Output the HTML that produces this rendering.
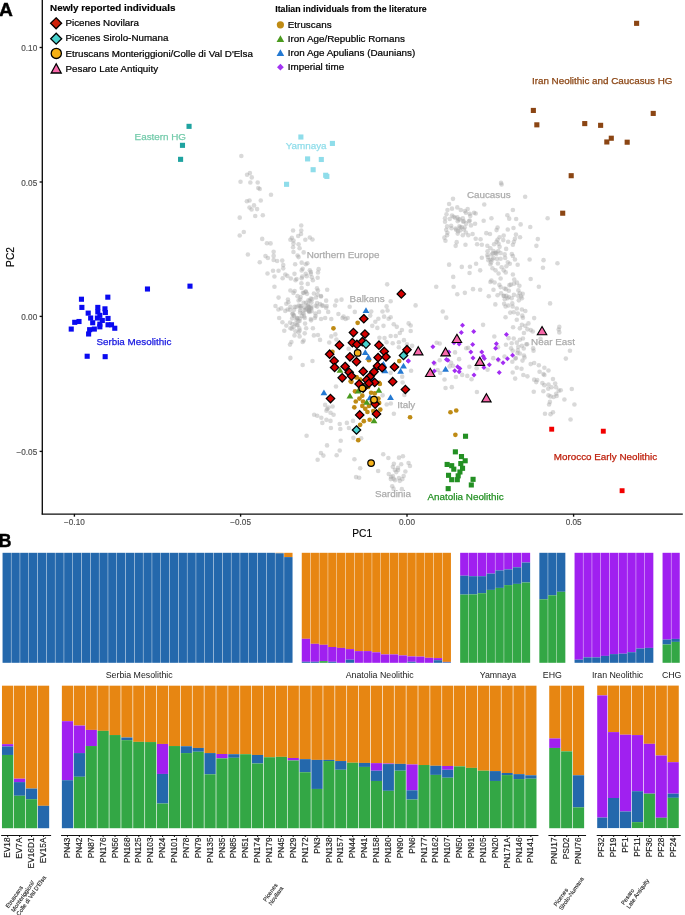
<!DOCTYPE html>
<html lang="en"><head><meta charset="utf-8"><title>Figure</title>
<style>html,body{margin:0;padding:0;background:#fff}svg{display:block}</style></head>
<body>
<svg width="685" height="915" viewBox="0 0 685 915" font-family='"Liberation Sans", Arial, Helvetica, sans-serif'>
<rect width="685" height="915" fill="#fff"/>
<g fill="#a0a0a0" fill-opacity="0.40">
<circle cx="241.35" cy="155.94" r="2.3"/>
<circle cx="247.07" cy="174.74" r="2.3"/>
<circle cx="249.93" cy="173.11" r="2.3"/>
<circle cx="251.77" cy="177.4" r="2.3"/>
<circle cx="240.53" cy="181.69" r="2.3"/>
<circle cx="250.34" cy="182.51" r="2.3"/>
<circle cx="257.7" cy="182.51" r="2.3"/>
<circle cx="258.31" cy="188.03" r="2.3"/>
<circle cx="259.74" cy="189.05" r="2.3"/>
<circle cx="270.99" cy="194.77" r="2.3"/>
<circle cx="246.87" cy="201.31" r="2.3"/>
<circle cx="249.53" cy="200.5" r="2.3"/>
<circle cx="260.77" cy="200.5" r="2.3"/>
<circle cx="254.02" cy="205.4" r="2.3"/>
<circle cx="249.53" cy="207.45" r="2.3"/>
<circle cx="251.57" cy="209.49" r="2.3"/>
<circle cx="257.09" cy="209.08" r="2.3"/>
<circle cx="239.72" cy="217.66" r="2.3"/>
<circle cx="255.25" cy="216.03" r="2.3"/>
<circle cx="262.81" cy="215.21" r="2.3"/>
<circle cx="243.8" cy="231.97" r="2.3"/>
<circle cx="239.72" cy="235.45" r="2.3"/>
<circle cx="262.2" cy="238.92" r="2.3"/>
<circle cx="266.9" cy="243.21" r="2.3"/>
<circle cx="270.58" cy="243.42" r="2.3"/>
<circle cx="247.89" cy="254.45" r="2.3"/>
<circle cx="273.64" cy="251.8" r="2.3"/>
<circle cx="265.47" cy="256.09" r="2.3"/>
<circle cx="267.92" cy="257.93" r="2.3"/>
<circle cx="273.64" cy="255.88" r="2.3"/>
<circle cx="273.64" cy="259.97" r="2.3"/>
<circle cx="259.74" cy="262.22" r="2.3"/>
<circle cx="277.12" cy="260.99" r="2.3"/>
<circle cx="282.23" cy="260.58" r="2.3"/>
<circle cx="283.25" cy="265.08" r="2.3"/>
<circle cx="283.25" cy="268.35" r="2.3"/>
<circle cx="273.03" cy="270.8" r="2.3"/>
<circle cx="278.55" cy="270.8" r="2.3"/>
<circle cx="267.51" cy="273.46" r="2.3"/>
<circle cx="274.46" cy="276.53" r="2.3"/>
<circle cx="285.29" cy="274.48" r="2.3"/>
<circle cx="287.34" cy="275.91" r="2.3"/>
<circle cx="290.81" cy="278.57" r="2.3"/>
<circle cx="294.49" cy="273.87" r="2.3"/>
<circle cx="301.23" cy="225.43" r="2.3"/>
<circle cx="293.06" cy="230.54" r="2.3"/>
<circle cx="301.23" cy="230.54" r="2.3"/>
<circle cx="301.03" cy="234.01" r="2.3"/>
<circle cx="298.17" cy="236.06" r="2.3"/>
<circle cx="291.83" cy="237.69" r="2.3"/>
<circle cx="290.4" cy="239.74" r="2.3"/>
<circle cx="293.47" cy="240.55" r="2.3"/>
<circle cx="305.32" cy="239.74" r="2.3"/>
<circle cx="309.82" cy="237.49" r="2.3"/>
<circle cx="312.47" cy="239.53" r="2.3"/>
<circle cx="293.47" cy="243.62" r="2.3"/>
<circle cx="298.58" cy="244.23" r="2.3"/>
<circle cx="293.06" cy="247.3" r="2.3"/>
<circle cx="299.6" cy="248.32" r="2.3"/>
<circle cx="293.47" cy="252" r="2.3"/>
<circle cx="297.55" cy="255.47" r="2.3"/>
<circle cx="298.58" cy="257.11" r="2.3"/>
<circle cx="303.69" cy="252.41" r="2.3"/>
<circle cx="301.64" cy="262.63" r="2.3"/>
<circle cx="305.73" cy="264.26" r="2.3"/>
<circle cx="307.36" cy="263.24" r="2.3"/>
<circle cx="302.66" cy="268.76" r="2.3"/>
<circle cx="301.64" cy="270.39" r="2.3"/>
<circle cx="309.82" cy="270.19" r="2.3"/>
<circle cx="318.61" cy="269.17" r="2.3"/>
<circle cx="317.99" cy="272.44" r="2.3"/>
<circle cx="310.84" cy="273.87" r="2.3"/>
<circle cx="305.73" cy="273.87" r="2.3"/>
<circle cx="302.26" cy="276.53" r="2.3"/>
<circle cx="311.86" cy="277.34" r="2.3"/>
<circle cx="296.53" cy="278.98" r="2.3"/>
<circle cx="282.64" cy="278.18" r="2.3"/>
<circle cx="295.51" cy="280.22" r="2.3"/>
<circle cx="301.64" cy="278.18" r="2.3"/>
<circle cx="306.75" cy="276.13" r="2.3"/>
<circle cx="310.84" cy="272.04" r="2.3"/>
<circle cx="312.88" cy="280.22" r="2.3"/>
<circle cx="307.77" cy="283.9" r="2.3"/>
<circle cx="301.64" cy="287.99" r="2.3"/>
<circle cx="274.46" cy="286.76" r="2.3"/>
<circle cx="290.4" cy="290.44" r="2.3"/>
<circle cx="293.47" cy="292.89" r="2.3"/>
<circle cx="297.55" cy="296.16" r="2.3"/>
<circle cx="278.55" cy="297.59" r="2.3"/>
<circle cx="288.36" cy="302.29" r="2.3"/>
<circle cx="286.31" cy="303.72" r="2.3"/>
<circle cx="290.4" cy="306.79" r="2.3"/>
<circle cx="275.48" cy="305.97" r="2.3"/>
<circle cx="281.2" cy="308.42" r="2.3"/>
<circle cx="285.29" cy="310.88" r="2.3"/>
<circle cx="289.99" cy="309.85" r="2.3"/>
<circle cx="279.16" cy="318.03" r="2.3"/>
<circle cx="292.45" cy="313.94" r="2.3"/>
<circle cx="296.53" cy="306.79" r="2.3"/>
<circle cx="300.62" cy="307.81" r="2.3"/>
<circle cx="303.69" cy="302.7" r="2.3"/>
<circle cx="307.77" cy="305.77" r="2.3"/>
<circle cx="310.84" cy="298.61" r="2.3"/>
<circle cx="313.91" cy="293.5" r="2.3"/>
<circle cx="316.97" cy="288.39" r="2.3"/>
<circle cx="317.99" cy="290.44" r="2.3"/>
<circle cx="321.06" cy="296.57" r="2.3"/>
<circle cx="327.19" cy="289.82" r="2.3"/>
<circle cx="305.73" cy="309.85" r="2.3"/>
<circle cx="308.8" cy="310.88" r="2.3"/>
<circle cx="302.66" cy="312.92" r="2.3"/>
<circle cx="301.64" cy="315.99" r="2.3"/>
<circle cx="304.71" cy="318.03" r="2.3"/>
<circle cx="299.6" cy="321.09" r="2.3"/>
<circle cx="295.51" cy="323.55" r="2.3"/>
<circle cx="297.55" cy="325.18" r="2.3"/>
<circle cx="292.45" cy="324.16" r="2.3"/>
<circle cx="286.31" cy="325.59" r="2.3"/>
<circle cx="284.27" cy="330.7" r="2.3"/>
<circle cx="290.4" cy="328.25" r="2.3"/>
<circle cx="295.51" cy="331.31" r="2.3"/>
<circle cx="298.58" cy="332.34" r="2.3"/>
<circle cx="294.49" cy="335.4" r="2.3"/>
<circle cx="299.6" cy="336.42" r="2.3"/>
<circle cx="304.71" cy="333.36" r="2.3"/>
<circle cx="303.69" cy="340.51" r="2.3"/>
<circle cx="302.66" cy="341.94" r="2.3"/>
<circle cx="291.42" cy="341.94" r="2.3"/>
<circle cx="289.99" cy="344.6" r="2.3"/>
<circle cx="312.88" cy="328.25" r="2.3"/>
<circle cx="310.84" cy="319.05" r="2.3"/>
<circle cx="314.93" cy="318.03" r="2.3"/>
<circle cx="319.01" cy="311.9" r="2.3"/>
<circle cx="323.1" cy="305.77" r="2.3"/>
<circle cx="326.17" cy="307.81" r="2.3"/>
<circle cx="328.21" cy="311.9" r="2.3"/>
<circle cx="321.06" cy="319.05" r="2.3"/>
<circle cx="325.15" cy="318.03" r="2.3"/>
<circle cx="331.28" cy="319.05" r="2.3"/>
<circle cx="336.39" cy="300.66" r="2.3"/>
<circle cx="341.5" cy="299.64" r="2.3"/>
<circle cx="326.17" cy="300.66" r="2.3"/>
<circle cx="338.43" cy="313.94" r="2.3"/>
<circle cx="342.52" cy="318.03" r="2.3"/>
<circle cx="345.58" cy="319.05" r="2.3"/>
<circle cx="343.54" cy="316.6" r="2.3"/>
<circle cx="347.63" cy="318.03" r="2.3"/>
<circle cx="349.67" cy="306.79" r="2.3"/>
<circle cx="354.78" cy="311.9" r="2.3"/>
<circle cx="313.91" cy="335.4" r="2.3"/>
<circle cx="317.99" cy="334.99" r="2.3"/>
<circle cx="320.04" cy="339.9" r="2.3"/>
<circle cx="329.23" cy="342.55" r="2.3"/>
<circle cx="331.28" cy="336.42" r="2.3"/>
<circle cx="335.36" cy="334.38" r="2.3"/>
<circle cx="336.39" cy="339.49" r="2.3"/>
<circle cx="290.4" cy="357.88" r="2.3"/>
<circle cx="312.47" cy="360.95" r="2.3"/>
<circle cx="302.66" cy="365.04" r="2.3"/>
<circle cx="335.98" cy="386.5" r="2.3"/>
<circle cx="348.65" cy="348.69" r="2.3"/>
<circle cx="325.15" cy="404.89" r="2.3"/>
<circle cx="327.19" cy="408.98" r="2.3"/>
<circle cx="328.47" cy="407.59" r="2.3"/>
<circle cx="332.55" cy="406.57" r="2.3"/>
<circle cx="326.42" cy="410.66" r="2.3"/>
<circle cx="330.51" cy="412.7" r="2.3"/>
<circle cx="333.58" cy="414.74" r="2.3"/>
<circle cx="314.16" cy="414.74" r="2.3"/>
<circle cx="317.23" cy="415.77" r="2.3"/>
<circle cx="321.31" cy="417.81" r="2.3"/>
<circle cx="326.42" cy="419.85" r="2.3"/>
<circle cx="330.51" cy="420.88" r="2.3"/>
<circle cx="322.34" cy="422.92" r="2.3"/>
<circle cx="339.71" cy="423.94" r="2.3"/>
<circle cx="346.86" cy="422.92" r="2.3"/>
<circle cx="352.99" cy="420.88" r="2.3"/>
<circle cx="330.92" cy="428.03" r="2.3"/>
<circle cx="340.32" cy="429.05" r="2.3"/>
<circle cx="348.91" cy="428.03" r="2.3"/>
<circle cx="306.6" cy="435.8" r="2.3"/>
<circle cx="340.73" cy="440.7" r="2.3"/>
<circle cx="353.4" cy="437.84" r="2.3"/>
<circle cx="361.17" cy="438.25" r="2.3"/>
<circle cx="327.04" cy="445.4" r="2.3"/>
<circle cx="320.91" cy="452.96" r="2.3"/>
<circle cx="339.71" cy="450.51" r="2.3"/>
<circle cx="323.36" cy="455.62" r="2.3"/>
<circle cx="336.64" cy="455.21" r="2.3"/>
<circle cx="317.64" cy="459.71" r="2.3"/>
<circle cx="354.42" cy="459.3" r="2.3"/>
<circle cx="360.15" cy="468.29" r="2.3"/>
<circle cx="356.06" cy="477.08" r="2.3"/>
<circle cx="359.12" cy="477.69" r="2.3"/>
<circle cx="378.13" cy="470.95" r="2.3"/>
<circle cx="383.24" cy="454.19" r="2.3"/>
<circle cx="388.35" cy="458.07" r="2.3"/>
<circle cx="398.98" cy="457.66" r="2.3"/>
<circle cx="393.87" cy="463.8" r="2.3"/>
<circle cx="392.85" cy="466.86" r="2.3"/>
<circle cx="394.89" cy="469.93" r="2.3"/>
<circle cx="388.76" cy="474.01" r="2.3"/>
<circle cx="392.85" cy="476.06" r="2.3"/>
<circle cx="390.8" cy="479.12" r="2.3"/>
<circle cx="394.89" cy="480.15" r="2.3"/>
<circle cx="398.98" cy="478.1" r="2.3"/>
<circle cx="392.23" cy="486.28" r="2.3"/>
<circle cx="393.87" cy="413.72" r="2.3"/>
<circle cx="390.8" cy="403.5" r="2.3"/>
<circle cx="386.72" cy="404.53" r="2.3"/>
<circle cx="382.63" cy="395.33" r="2.3"/>
<circle cx="402.93" cy="456.31" r="2.3"/>
<circle cx="401.18" cy="464.2" r="2.3"/>
<circle cx="408.54" cy="462.97" r="2.3"/>
<circle cx="409.94" cy="465.95" r="2.3"/>
<circle cx="396.28" cy="472.08" r="2.3"/>
<circle cx="391.02" cy="476.99" r="2.3"/>
<circle cx="393.65" cy="478.74" r="2.3"/>
<circle cx="399.78" cy="480.84" r="2.3"/>
<circle cx="402.41" cy="479.09" r="2.3"/>
<circle cx="403.64" cy="475.93" r="2.3"/>
<circle cx="398.03" cy="467.7" r="2.3"/>
<circle cx="501.03" cy="182.89" r="2.3"/>
<circle cx="501.64" cy="184.53" r="2.3"/>
<circle cx="525.15" cy="196.79" r="2.3"/>
<circle cx="453" cy="198.83" r="2.3"/>
<circle cx="449.12" cy="203.94" r="2.3"/>
<circle cx="484.27" cy="204.55" r="2.3"/>
<circle cx="447.48" cy="210.07" r="2.3"/>
<circle cx="451.98" cy="208.64" r="2.3"/>
<circle cx="457.29" cy="207.42" r="2.3"/>
<circle cx="460.77" cy="210.07" r="2.3"/>
<circle cx="464.85" cy="211.09" r="2.3"/>
<circle cx="465.88" cy="212.73" r="2.3"/>
<circle cx="474.05" cy="212.73" r="2.3"/>
<circle cx="475.69" cy="213.55" r="2.3"/>
<circle cx="512.88" cy="210.07" r="2.3"/>
<circle cx="507.36" cy="215.18" r="2.3"/>
<circle cx="509.2" cy="218.66" r="2.3"/>
<circle cx="491.42" cy="218.25" r="2.3"/>
<circle cx="483.66" cy="220.7" r="2.3"/>
<circle cx="547.63" cy="218.25" r="2.3"/>
<circle cx="445.03" cy="218.25" r="2.3"/>
<circle cx="445.03" cy="221.72" r="2.3"/>
<circle cx="451.98" cy="215.59" r="2.3"/>
<circle cx="453.61" cy="216.82" r="2.3"/>
<circle cx="457.29" cy="217.23" r="2.3"/>
<circle cx="459.74" cy="219.27" r="2.3"/>
<circle cx="462.81" cy="218.25" r="2.3"/>
<circle cx="457.7" cy="221.31" r="2.3"/>
<circle cx="463.83" cy="221.31" r="2.3"/>
<circle cx="468.94" cy="221.31" r="2.3"/>
<circle cx="470.99" cy="225.4" r="2.3"/>
<circle cx="475.07" cy="223.77" r="2.3"/>
<circle cx="447.07" cy="226.42" r="2.3"/>
<circle cx="451.16" cy="225.81" r="2.3"/>
<circle cx="455.66" cy="228.47" r="2.3"/>
<circle cx="459.34" cy="226.42" r="2.3"/>
<circle cx="460.15" cy="230.51" r="2.3"/>
<circle cx="463.83" cy="229.49" r="2.3"/>
<circle cx="457.7" cy="233.58" r="2.3"/>
<circle cx="465.88" cy="232.55" r="2.3"/>
<circle cx="462.81" cy="235.21" r="2.3"/>
<circle cx="468.33" cy="235.21" r="2.3"/>
<circle cx="472.62" cy="233.99" r="2.3"/>
<circle cx="447.07" cy="235.21" r="2.3"/>
<circle cx="444.42" cy="237.66" r="2.3"/>
<circle cx="445.44" cy="240.73" r="2.3"/>
<circle cx="456.68" cy="242.16" r="2.3"/>
<circle cx="455.66" cy="245.84" r="2.3"/>
<circle cx="465.47" cy="244.82" r="2.3"/>
<circle cx="520.65" cy="224.38" r="2.3"/>
<circle cx="530.26" cy="227.04" r="2.3"/>
<circle cx="497.55" cy="227.45" r="2.3"/>
<circle cx="496.53" cy="230.1" r="2.3"/>
<circle cx="507.77" cy="229.49" r="2.3"/>
<circle cx="513.5" cy="228.06" r="2.3"/>
<circle cx="486.31" cy="233.17" r="2.3"/>
<circle cx="489.99" cy="233.99" r="2.3"/>
<circle cx="503.69" cy="235.62" r="2.3"/>
<circle cx="499.6" cy="237.26" r="2.3"/>
<circle cx="497.55" cy="239.71" r="2.3"/>
<circle cx="515.95" cy="234.6" r="2.3"/>
<circle cx="520.04" cy="237.26" r="2.3"/>
<circle cx="514.93" cy="238.69" r="2.3"/>
<circle cx="475.69" cy="238.69" r="2.3"/>
<circle cx="480.59" cy="239.3" r="2.3"/>
<circle cx="496.53" cy="241.75" r="2.3"/>
<circle cx="498.58" cy="243.8" r="2.3"/>
<circle cx="503.28" cy="240.12" r="2.3"/>
<circle cx="508.18" cy="241.75" r="2.3"/>
<circle cx="513.91" cy="241.75" r="2.3"/>
<circle cx="512.88" cy="244.82" r="2.3"/>
<circle cx="537.82" cy="239.09" r="2.3"/>
<circle cx="536.39" cy="245.84" r="2.3"/>
<circle cx="477.12" cy="244.2" r="2.3"/>
<circle cx="481.82" cy="244.82" r="2.3"/>
<circle cx="487.34" cy="245.84" r="2.3"/>
<circle cx="490.4" cy="248.29" r="2.3"/>
<circle cx="499.6" cy="246.86" r="2.3"/>
<circle cx="506.14" cy="248.91" r="2.3"/>
<circle cx="493.47" cy="250.95" r="2.3"/>
<circle cx="495.1" cy="252.99" r="2.3"/>
<circle cx="500.62" cy="252.99" r="2.3"/>
<circle cx="504.71" cy="254.42" r="2.3"/>
<circle cx="511.86" cy="254.01" r="2.3"/>
<circle cx="512.88" cy="256.06" r="2.3"/>
<circle cx="514.93" cy="259.53" r="2.3"/>
<circle cx="487.34" cy="255.04" r="2.3"/>
<circle cx="481.82" cy="257.69" r="2.3"/>
<circle cx="490.4" cy="259.74" r="2.3"/>
<circle cx="500.62" cy="258.72" r="2.3"/>
<circle cx="488.36" cy="260.15" r="2.3"/>
<circle cx="492.45" cy="259.53" r="2.3"/>
<circle cx="529.64" cy="259.53" r="2.3"/>
<circle cx="543.54" cy="260.15" r="2.3"/>
<circle cx="557.44" cy="263.21" r="2.3"/>
<circle cx="542.93" cy="267.71" r="2.3"/>
<circle cx="449.12" cy="264.64" r="2.3"/>
<circle cx="461.79" cy="266.89" r="2.3"/>
<circle cx="469.96" cy="266.69" r="2.3"/>
<circle cx="476.09" cy="263.82" r="2.3"/>
<circle cx="490.4" cy="264.23" r="2.3"/>
<circle cx="492.45" cy="268.32" r="2.3"/>
<circle cx="495.51" cy="270.36" r="2.3"/>
<circle cx="480.18" cy="270.36" r="2.3"/>
<circle cx="469.55" cy="273.02" r="2.3"/>
<circle cx="507.77" cy="262.19" r="2.3"/>
<circle cx="509.82" cy="263.82" r="2.3"/>
<circle cx="506.34" cy="266.28" r="2.3"/>
<circle cx="501.64" cy="267.3" r="2.3"/>
<circle cx="503.69" cy="270.36" r="2.3"/>
<circle cx="505.73" cy="272.41" r="2.3"/>
<circle cx="498.58" cy="273.43" r="2.3"/>
<circle cx="512.88" cy="274.45" r="2.3"/>
<circle cx="453.2" cy="276.91" r="2.3"/>
<circle cx="500.62" cy="278.54" r="2.3"/>
<circle cx="530.66" cy="278.95" r="2.3"/>
<circle cx="490.4" cy="282.01" r="2.3"/>
<circle cx="491.42" cy="280.58" r="2.3"/>
<circle cx="436.24" cy="286.72" r="2.3"/>
<circle cx="453.61" cy="286.72" r="2.3"/>
<circle cx="473.03" cy="289.17" r="2.3"/>
<circle cx="480.18" cy="289.78" r="2.3"/>
<circle cx="493.47" cy="289.78" r="2.3"/>
<circle cx="500.62" cy="287.12" r="2.3"/>
<circle cx="508.8" cy="290.8" r="2.3"/>
<circle cx="510.84" cy="284.67" r="2.3"/>
<circle cx="513.91" cy="283.65" r="2.3"/>
<circle cx="516.97" cy="282.63" r="2.3"/>
<circle cx="519.42" cy="285.69" r="2.3"/>
<circle cx="518.4" cy="290.39" r="2.3"/>
<circle cx="522.69" cy="293.87" r="2.3"/>
<circle cx="521.06" cy="296.53" r="2.3"/>
<circle cx="538.84" cy="286.72" r="2.3"/>
<circle cx="457.29" cy="294.28" r="2.3"/>
<circle cx="464.85" cy="292.85" r="2.3"/>
<circle cx="488.77" cy="296.32" r="2.3"/>
<circle cx="497.55" cy="295.3" r="2.3"/>
<circle cx="506.34" cy="295.91" r="2.3"/>
<circle cx="508.8" cy="296.93" r="2.3"/>
<circle cx="513.91" cy="294.89" r="2.3"/>
<circle cx="501.05" cy="293.18" r="2.3"/>
<circle cx="507.59" cy="298.28" r="2.3"/>
<circle cx="511.68" cy="298.28" r="2.3"/>
<circle cx="519.85" cy="293.18" r="2.3"/>
<circle cx="521.9" cy="298.28" r="2.3"/>
<circle cx="518.83" cy="300.33" r="2.3"/>
<circle cx="550.1" cy="303.39" r="2.3"/>
<circle cx="495.33" cy="304.42" r="2.3"/>
<circle cx="504.12" cy="303.8" r="2.3"/>
<circle cx="505.55" cy="306.46" r="2.3"/>
<circle cx="512.29" cy="303.39" r="2.3"/>
<circle cx="512.7" cy="306.46" r="2.3"/>
<circle cx="516.79" cy="308.5" r="2.3"/>
<circle cx="521.9" cy="309.53" r="2.3"/>
<circle cx="525.37" cy="310.96" r="2.3"/>
<circle cx="510.25" cy="312.59" r="2.3"/>
<circle cx="513.72" cy="312.18" r="2.3"/>
<circle cx="517.81" cy="313.61" r="2.3"/>
<circle cx="522.31" cy="315.66" r="2.3"/>
<circle cx="522.92" cy="317.7" r="2.3"/>
<circle cx="534.16" cy="318.11" r="2.3"/>
<circle cx="505.55" cy="317.29" r="2.3"/>
<circle cx="516.79" cy="319.74" r="2.3"/>
<circle cx="521.9" cy="324.85" r="2.3"/>
<circle cx="525.37" cy="325.88" r="2.3"/>
<circle cx="528.44" cy="323.42" r="2.3"/>
<circle cx="483.07" cy="324.85" r="2.3"/>
<circle cx="513.11" cy="327.31" r="2.3"/>
<circle cx="519.85" cy="328.33" r="2.3"/>
<circle cx="527.42" cy="329.35" r="2.3"/>
<circle cx="523.94" cy="333.03" r="2.3"/>
<circle cx="522.92" cy="338.55" r="2.3"/>
<circle cx="519.85" cy="339.77" r="2.3"/>
<circle cx="513.72" cy="338.55" r="2.3"/>
<circle cx="508.61" cy="338.14" r="2.3"/>
<circle cx="494.31" cy="336.5" r="2.3"/>
<circle cx="559.3" cy="326.9" r="2.3"/>
<circle cx="558.69" cy="329.55" r="2.3"/>
<circle cx="559.3" cy="332.42" r="2.3"/>
<circle cx="505.96" cy="344.68" r="2.3"/>
<circle cx="511.68" cy="343.25" r="2.3"/>
<circle cx="516.79" cy="342.64" r="2.3"/>
<circle cx="521.9" cy="345.7" r="2.3"/>
<circle cx="511.07" cy="348.36" r="2.3"/>
<circle cx="512.7" cy="350.81" r="2.3"/>
<circle cx="517.81" cy="350.4" r="2.3"/>
<circle cx="519.85" cy="353.47" r="2.3"/>
<circle cx="523.94" cy="355.51" r="2.3"/>
<circle cx="524.55" cy="357.55" r="2.3"/>
<circle cx="522.51" cy="360.62" r="2.3"/>
<circle cx="515.77" cy="357.96" r="2.3"/>
<circle cx="504.53" cy="356.53" r="2.3"/>
<circle cx="493.28" cy="358.17" r="2.3"/>
<circle cx="497.99" cy="347.34" r="2.3"/>
<circle cx="533.14" cy="348.36" r="2.3"/>
<circle cx="533.55" cy="350.81" r="2.3"/>
<circle cx="569.93" cy="350.81" r="2.3"/>
<circle cx="565.84" cy="358.58" r="2.3"/>
<circle cx="530.69" cy="364.09" r="2.3"/>
<circle cx="534.16" cy="363.07" r="2.3"/>
<circle cx="538.86" cy="365.32" r="2.3"/>
<circle cx="544.38" cy="367.77" r="2.3"/>
<circle cx="548.47" cy="370.43" r="2.3"/>
<circle cx="516.79" cy="367.77" r="2.3"/>
<circle cx="521.49" cy="368.8" r="2.3"/>
<circle cx="512.7" cy="372.47" r="2.3"/>
<circle cx="523.33" cy="374.93" r="2.3"/>
<circle cx="527.42" cy="376.36" r="2.3"/>
<circle cx="515.15" cy="378.61" r="2.3"/>
<circle cx="544.38" cy="374.93" r="2.3"/>
<circle cx="552.96" cy="379.01" r="2.3"/>
<circle cx="534.16" cy="379.63" r="2.3"/>
<circle cx="537.23" cy="380.04" r="2.3"/>
<circle cx="536.2" cy="382.08" r="2.3"/>
<circle cx="542.34" cy="383.1" r="2.3"/>
<circle cx="544.38" cy="385.15" r="2.3"/>
<circle cx="548.47" cy="384.53" r="2.3"/>
<circle cx="551.53" cy="387.19" r="2.3"/>
<circle cx="556.03" cy="387.19" r="2.3"/>
<circle cx="560.73" cy="390.26" r="2.3"/>
<circle cx="558.69" cy="390.66" r="2.3"/>
<circle cx="533.75" cy="391.69" r="2.3"/>
<circle cx="543.36" cy="391.28" r="2.3"/>
<circle cx="548.47" cy="395.36" r="2.3"/>
<circle cx="550.51" cy="396.39" r="2.3"/>
<circle cx="553.58" cy="397" r="2.3"/>
<circle cx="556.64" cy="395.98" r="2.3"/>
<circle cx="564.41" cy="399.45" r="2.3"/>
<circle cx="549.9" cy="401.91" r="2.3"/>
<circle cx="549.08" cy="404.56" r="2.3"/>
<circle cx="574.42" cy="404.56" r="2.3"/>
<circle cx="544.99" cy="413.76" r="2.3"/>
<circle cx="550.51" cy="414.17" r="2.3"/>
<circle cx="570.54" cy="419.48" r="2.3"/>
<circle cx="487.56" cy="369.82" r="2.3"/>
<circle cx="553" cy="412.3" r="2.3"/>
<circle cx="571.8" cy="389" r="2.3"/>
<circle cx="387.18" cy="284.35" r="2.3"/>
<circle cx="415.59" cy="305.4" r="2.3"/>
<circle cx="390.66" cy="301.31" r="2.3"/>
<circle cx="386.57" cy="306.42" r="2.3"/>
<circle cx="382.48" cy="311.53" r="2.3"/>
<circle cx="387.59" cy="310.51" r="2.3"/>
<circle cx="390.66" cy="317.26" r="2.3"/>
<circle cx="388.61" cy="318.69" r="2.3"/>
<circle cx="384.12" cy="316.64" r="2.3"/>
<circle cx="378.39" cy="318.69" r="2.3"/>
<circle cx="375.33" cy="321.75" r="2.3"/>
<circle cx="370.22" cy="315.62" r="2.3"/>
<circle cx="371.24" cy="311.53" r="2.3"/>
<circle cx="372.26" cy="325.84" r="2.3"/>
<circle cx="377.37" cy="327.88" r="2.3"/>
<circle cx="383.5" cy="325.84" r="2.3"/>
<circle cx="393.72" cy="324.2" r="2.3"/>
<circle cx="396.79" cy="326.86" r="2.3"/>
<circle cx="401.9" cy="329.93" r="2.3"/>
<circle cx="399.85" cy="332.99" r="2.3"/>
<circle cx="408.64" cy="323.39" r="2.3"/>
<circle cx="410.69" cy="325.43" r="2.3"/>
<circle cx="410.69" cy="330.95" r="2.3"/>
<circle cx="395.77" cy="336.06" r="2.3"/>
<circle cx="390.66" cy="336.06" r="2.3"/>
<circle cx="384.53" cy="338.1" r="2.3"/>
<circle cx="379.42" cy="337.69" r="2.3"/>
<circle cx="386.57" cy="342.19" r="2.3"/>
<circle cx="392.7" cy="343.21" r="2.3"/>
<circle cx="398.83" cy="342.19" r="2.3"/>
<circle cx="403.94" cy="340.15" r="2.3"/>
<circle cx="407.01" cy="344.23" r="2.3"/>
<circle cx="412.12" cy="345.87" r="2.3"/>
<circle cx="398.83" cy="347.3" r="2.3"/>
<circle cx="442.77" cy="311.53" r="2.3"/>
<circle cx="446.25" cy="317.66" r="2.3"/>
<circle cx="436.64" cy="342.8" r="2.3"/>
<circle cx="459.12" cy="359.15" r="2.3"/>
<circle cx="455.04" cy="352.41" r="2.3"/>
<circle cx="466.28" cy="348.32" r="2.3"/>
<circle cx="439.71" cy="360.18" r="2.3"/>
<circle cx="452.99" cy="365.69" r="2.3"/>
<circle cx="462.19" cy="374.89" r="2.3"/>
<circle cx="467.3" cy="375.91" r="2.3"/>
<circle cx="498.57" cy="360.18" r="2.3"/>
<circle cx="434.6" cy="363.65" r="2.3"/>
<circle cx="390.66" cy="372.85" r="2.3"/>
<circle cx="411.09" cy="370.8" r="2.3"/>
<circle cx="439.71" cy="343.5" r="2.3"/>
<circle cx="468.18" cy="347.88" r="2.3"/>
<circle cx="451.09" cy="362.77" r="2.3"/>
<circle cx="449.64" cy="366.42" r="2.3"/>
<circle cx="469.34" cy="366.72" r="2.3"/>
<circle cx="476.64" cy="368.18" r="2.3"/>
<circle cx="437.66" cy="370.07" r="2.3"/>
<circle cx="440.15" cy="372.99" r="2.3"/>
<circle cx="444.53" cy="379.56" r="2.3"/>
<circle cx="455.91" cy="376.93" r="2.3"/>
<circle cx="471.53" cy="379.27" r="2.3"/>
<circle cx="445.55" cy="388.03" r="2.3"/>
<circle cx="451.82" cy="387.15" r="2.3"/>
<circle cx="476.93" cy="391.97" r="2.3"/>
<circle cx="402.19" cy="376.64" r="2.3"/>
<circle cx="402.63" cy="382.48" r="2.3"/>
<circle cx="404.38" cy="394.89" r="2.3"/>
<circle cx="304.06" cy="316.53" r="2.3"/>
<circle cx="300.16" cy="310.19" r="2.3"/>
<circle cx="293.71" cy="315.72" r="2.3"/>
<circle cx="317.17" cy="306.62" r="2.3"/>
<circle cx="315.53" cy="305.82" r="2.3"/>
<circle cx="308.85" cy="309.7" r="2.3"/>
<circle cx="291.85" cy="328.64" r="2.3"/>
<circle cx="311.55" cy="311.27" r="2.3"/>
<circle cx="278.39" cy="309.51" r="2.3"/>
<circle cx="292.81" cy="313.55" r="2.3"/>
<circle cx="306.79" cy="308.59" r="2.3"/>
<circle cx="305.9" cy="302.7" r="2.3"/>
<circle cx="309.06" cy="311.84" r="2.3"/>
<circle cx="306.18" cy="328.24" r="2.3"/>
<circle cx="315.6" cy="316.12" r="2.3"/>
<circle cx="294.1" cy="309.71" r="2.3"/>
<circle cx="300.05" cy="312.54" r="2.3"/>
<circle cx="311.52" cy="308.56" r="2.3"/>
<circle cx="294.71" cy="306.92" r="2.3"/>
<circle cx="305.05" cy="323.6" r="2.3"/>
<circle cx="297.24" cy="318.29" r="2.3"/>
<circle cx="300.65" cy="297.04" r="2.3"/>
<circle cx="311.12" cy="320.37" r="2.3"/>
<circle cx="282.42" cy="322.26" r="2.3"/>
<circle cx="298.8" cy="305.65" r="2.3"/>
<circle cx="308.61" cy="307.17" r="2.3"/>
<circle cx="293.7" cy="327.07" r="2.3"/>
<circle cx="315.44" cy="313.49" r="2.3"/>
<circle cx="320.11" cy="303.93" r="2.3"/>
<circle cx="298.58" cy="300.54" r="2.3"/>
<circle cx="307.05" cy="293.86" r="2.3"/>
<circle cx="301.4" cy="283.22" r="2.3"/>
<circle cx="294.65" cy="291.12" r="2.3"/>
<circle cx="317.66" cy="277.81" r="2.3"/>
<circle cx="287.94" cy="299.53" r="2.3"/>
<circle cx="308.81" cy="310.6" r="2.3"/>
<circle cx="295.15" cy="264.23" r="2.3"/>
<circle cx="305.56" cy="291.7" r="2.3"/>
<circle cx="287.69" cy="309.49" r="2.3"/>
<circle cx="307.82" cy="304.56" r="2.3"/>
<circle cx="300.21" cy="305.98" r="2.3"/>
<circle cx="309.8" cy="311.46" r="2.3"/>
<circle cx="461.69" cy="227.02" r="2.3"/>
<circle cx="446.2" cy="229.87" r="2.3"/>
<circle cx="464.71" cy="227.48" r="2.3"/>
<circle cx="446.47" cy="214.29" r="2.3"/>
<circle cx="467.66" cy="208.97" r="2.3"/>
<circle cx="456.12" cy="229.74" r="2.3"/>
<circle cx="447.45" cy="232.8" r="2.3"/>
<circle cx="463.03" cy="221.59" r="2.3"/>
<circle cx="460.2" cy="227.55" r="2.3"/>
<circle cx="458.01" cy="231.15" r="2.3"/>
<circle cx="455.12" cy="217.83" r="2.3"/>
<circle cx="466.1" cy="223.66" r="2.3"/>
<circle cx="451.46" cy="228.2" r="2.3"/>
<circle cx="469.76" cy="220.55" r="2.3"/>
<circle cx="449.75" cy="219.02" r="2.3"/>
<circle cx="458.45" cy="219.46" r="2.3"/>
<circle cx="470.27" cy="215.9" r="2.3"/>
<circle cx="469.66" cy="213.81" r="2.3"/>
<circle cx="487.88" cy="257.05" r="2.3"/>
<circle cx="497.92" cy="263.49" r="2.3"/>
<circle cx="496.39" cy="252.52" r="2.3"/>
<circle cx="493.49" cy="257.96" r="2.3"/>
<circle cx="492.84" cy="253.4" r="2.3"/>
<circle cx="498.28" cy="251.03" r="2.3"/>
<circle cx="497.04" cy="258.92" r="2.3"/>
<circle cx="505.18" cy="257.91" r="2.3"/>
<circle cx="494.09" cy="244.26" r="2.3"/>
<circle cx="491.1" cy="262.33" r="2.3"/>
<circle cx="491.47" cy="254.56" r="2.3"/>
<circle cx="516.14" cy="218.96" r="2.3"/>
<circle cx="487.55" cy="251.27" r="2.3"/>
<circle cx="496.3" cy="253.9" r="2.3"/>
<circle cx="503.59" cy="295.99" r="2.3"/>
<circle cx="509.42" cy="285.16" r="2.3"/>
<circle cx="518.2" cy="295.89" r="2.3"/>
<circle cx="504.48" cy="288.47" r="2.3"/>
<circle cx="506.02" cy="289.16" r="2.3"/>
<circle cx="494.6" cy="282.52" r="2.3"/>
<circle cx="514.26" cy="279.55" r="2.3"/>
<circle cx="504.78" cy="299.28" r="2.3"/>
<circle cx="508.23" cy="305.46" r="2.3"/>
<circle cx="499.36" cy="284.85" r="2.3"/>
<circle cx="504.09" cy="295.77" r="2.3"/>
<circle cx="517.68" cy="264.79" r="2.3"/>
<circle cx="532.78" cy="331.54" r="2.3"/>
<circle cx="530.75" cy="330.1" r="2.3"/>
<circle cx="515.39" cy="358.62" r="2.3"/>
<circle cx="518.28" cy="346.76" r="2.3"/>
<circle cx="523.74" cy="348.43" r="2.3"/>
<circle cx="512.35" cy="361.74" r="2.3"/>
<circle cx="527.17" cy="344.2" r="2.3"/>
<circle cx="540.53" cy="338.74" r="2.3"/>
<circle cx="526.3" cy="344.2" r="2.3"/>
<circle cx="517.44" cy="353.1" r="2.3"/>
<circle cx="548.22" cy="388.76" r="2.3"/>
<circle cx="539.56" cy="371.79" r="2.3"/>
<circle cx="555.17" cy="383.43" r="2.3"/>
<circle cx="543.42" cy="374.12" r="2.3"/>
<circle cx="556.21" cy="393.74" r="2.3"/>
<circle cx="405.37" cy="471.44" r="2.3"/>
<circle cx="398.01" cy="470.02" r="2.3"/>
<circle cx="401.83" cy="489.13" r="2.3"/>
<circle cx="393.55" cy="488.92" r="2.3"/>
<circle cx="309.2" cy="307.3" r="2.3"/>
<circle cx="290.07" cy="322.58" r="2.3"/>
<circle cx="308.44" cy="300.29" r="2.3"/>
<circle cx="303.71" cy="313.76" r="2.3"/>
<circle cx="316.04" cy="297.53" r="2.3"/>
<circle cx="299.32" cy="328.42" r="2.3"/>
<circle cx="310.68" cy="307.99" r="2.3"/>
<circle cx="296.34" cy="319.62" r="2.3"/>
<circle cx="304.59" cy="309.74" r="2.3"/>
<circle cx="311.1" cy="306.91" r="2.3"/>
<circle cx="300.2" cy="299.57" r="2.3"/>
<circle cx="294.1" cy="315.39" r="2.3"/>
<circle cx="309.79" cy="300.83" r="2.3"/>
<circle cx="299.79" cy="318.43" r="2.3"/>
<circle cx="297" cy="324.76" r="2.3"/>
<circle cx="298.34" cy="320.96" r="2.3"/>
<circle cx="299.67" cy="330.51" r="2.3"/>
<circle cx="297.42" cy="317.99" r="2.3"/>
<circle cx="305.85" cy="291.49" r="2.3"/>
<circle cx="292.2" cy="318.36" r="2.3"/>
<circle cx="301.22" cy="305.93" r="2.3"/>
<circle cx="304.57" cy="307.34" r="2.3"/>
<circle cx="312.07" cy="299.14" r="2.3"/>
<circle cx="335.06" cy="305.46" r="2.3"/>
<circle cx="321.89" cy="305.39" r="2.3"/>
<circle cx="317.6" cy="294.6" r="2.3"/>
<circle cx="311.43" cy="302.46" r="2.3"/>
<circle cx="302.98" cy="292.85" r="2.3"/>
<circle cx="326.69" cy="306.01" r="2.3"/>
<circle cx="317.12" cy="303.1" r="2.3"/>
<circle cx="320.98" cy="295.99" r="2.3"/>
<circle cx="303.81" cy="292.94" r="2.3"/>
</g>
<g fill="#BF8B14">
<circle cx="357.66" cy="322.81" r="2.35"/>
<circle cx="333.43" cy="328.36" r="2.35"/>
<circle cx="332.41" cy="351.86" r="2.35"/>
<circle cx="368.91" cy="360.18" r="2.35"/>
<circle cx="399.27" cy="361.06" r="2.35"/>
<circle cx="356.5" cy="377.26" r="2.35"/>
<circle cx="350.66" cy="381.35" r="2.35"/>
<circle cx="360.15" cy="379.89" r="2.35"/>
<circle cx="379.12" cy="382.81" r="2.35"/>
<circle cx="351.39" cy="381.79" r="2.35"/>
<circle cx="356.5" cy="377.41" r="2.35"/>
<circle cx="360.15" cy="379.6" r="2.35"/>
<circle cx="355.04" cy="391.28" r="2.35"/>
<circle cx="362.34" cy="395.66" r="2.35"/>
<circle cx="371.09" cy="392.74" r="2.35"/>
<circle cx="374.74" cy="393.47" r="2.35"/>
<circle cx="355.77" cy="401.5" r="2.35"/>
<circle cx="363.07" cy="401.5" r="2.35"/>
<circle cx="354.31" cy="407.34" r="2.35"/>
<circle cx="362.34" cy="405.88" r="2.35"/>
<circle cx="368.91" cy="405.88" r="2.35"/>
<circle cx="379.85" cy="383.98" r="2.35"/>
<circle cx="378.39" cy="398.58" r="2.35"/>
<circle cx="379.12" cy="402.96" r="2.35"/>
<circle cx="380.29" cy="409.53" r="2.35"/>
<circle cx="367.45" cy="412.01" r="2.35"/>
<circle cx="373.28" cy="410.99" r="2.35"/>
<circle cx="363.8" cy="421.2" r="2.35"/>
<circle cx="369.64" cy="419.74" r="2.35"/>
<circle cx="360.15" cy="424.85" r="2.35"/>
<circle cx="358.25" cy="440.18" r="2.35"/>
<circle cx="410.07" cy="417.26" r="2.35"/>
<circle cx="368.18" cy="386.9" r="2.35"/>
<circle cx="365.26" cy="408.8" r="2.35"/>
<circle cx="371.82" cy="401.5" r="2.35"/>
<circle cx="359.42" cy="398.58" r="2.35"/>
<circle cx="450.47" cy="412.25" r="2.35"/>
<circle cx="456.25" cy="410.5" r="2.35"/>
<circle cx="455.37" cy="434.85" r="2.35"/>
</g>
<g fill="#4A9A1E">
<path d="M340 367.06L343.4 372.86L336.6 372.86Z"/>
<path d="M349.93 392.76L353.33 398.56L346.53 398.56Z"/>
<path d="M378.83 386.92L382.23 392.72L375.43 392.72Z"/>
<path d="M366.72 399.03L370.12 404.83L363.32 404.83Z"/>
<path d="M374.01 417.57L377.41 423.37L370.61 423.37Z"/>
<path d="M358.25 387.65L361.65 393.45L354.85 393.45Z"/>
</g>
<g fill="#2479D2">
<path d="M365.99 307.21L369.39 313.01L362.59 313.01Z"/>
<path d="M365.26 349.25L368.66 355.05L361.86 355.05Z"/>
<path d="M368.47 353.92L371.87 359.72L365.07 359.72Z"/>
<path d="M383.07 361.66L386.47 367.46L379.67 367.46Z"/>
<path d="M384.96 367.5L388.36 373.3L381.56 373.3Z"/>
<path d="M403.5 362.68L406.9 368.48L400.1 368.48Z"/>
<path d="M400.58 367.94L403.98 373.74L397.18 373.74Z"/>
<path d="M323.94 389.4L327.34 395.2L320.54 395.2Z"/>
<path d="M390.51 394.22L393.91 400.02L387.11 400.02Z"/>
<path d="M369.93 394.51L373.33 400.31L366.53 400.31Z"/>
<path d="M373.28 375.97L376.68 381.77L369.88 381.77Z"/>
<path d="M445.55 366.01L448.95 371.81L442.15 371.81Z"/>
<path d="M383.5 361.1L386.9 366.9L380.1 366.9Z"/>
</g>
<g fill="#A22CF2">
<path d="M462.48 322.76L464.98 325.26L462.48 327.76L459.98 325.26Z"/>
<path d="M461.31 329.91L463.81 332.41L461.31 334.91L458.81 332.41Z"/>
<path d="M473.72 328.89L476.22 331.39L473.72 333.89L471.22 331.39Z"/>
<path d="M432.85 344.22L435.35 346.72L432.85 349.22L430.35 346.72Z"/>
<path d="M454.01 340.13L456.51 342.63L454.01 345.13L451.51 342.63Z"/>
<path d="M459.12 341.59L461.62 344.09L459.12 346.59L456.62 344.09Z"/>
<path d="M472.7 342.03L475.2 344.53L472.7 347.03L470.2 344.53Z"/>
<path d="M496.35 341.3L498.85 343.8L496.35 346.3L493.85 343.8Z"/>
<path d="M495.62 345.68L498.12 348.18L495.62 350.68L493.12 348.18Z"/>
<path d="M470.8 349.62L473.3 352.12L470.8 354.62L468.3 352.12Z"/>
<path d="M481.75 349.62L484.25 352.12L481.75 354.62L479.25 352.12Z"/>
<path d="M483.21 353.7L485.71 356.2L483.21 358.7L480.71 356.2Z"/>
<path d="M448.91 349.62L451.41 352.12L448.91 354.62L446.41 352.12Z"/>
<path d="M472.99 355.46L475.49 357.96L472.99 360.46L470.49 357.96Z"/>
<path d="M484.38 355.89L486.88 358.39L484.38 360.89L481.88 358.39Z"/>
<path d="M498.1 357.06L500.6 359.56L498.1 362.06L495.6 359.56Z"/>
<path d="M408.32 358.38L410.82 360.88L408.32 363.38L405.82 360.88Z"/>
<path d="M433.87 360.27L436.37 362.77L433.87 365.27L431.37 362.77Z"/>
<path d="M446.42 357.06L448.92 359.56L446.42 362.06L443.92 359.56Z"/>
<path d="M447.88 357.79L450.38 360.29L447.88 362.79L445.38 360.29Z"/>
<path d="M489.34 362.17L491.84 364.67L489.34 367.17L486.84 364.67Z"/>
<path d="M483.94 365.09L486.44 367.59L483.94 370.09L481.44 367.59Z"/>
<path d="M457.66 364.22L460.16 366.72L457.66 369.22L455.16 366.72Z"/>
<path d="M459.85 366.11L462.35 368.61L459.85 371.11L457.35 368.61Z"/>
<path d="M454.74 368.3L457.24 370.8L454.74 373.3L452.24 370.8Z"/>
<path d="M459.12 369.32L461.62 371.82L459.12 374.32L456.62 371.82Z"/>
<path d="M434.31 368.59L436.81 371.09L434.31 373.59L431.81 371.09Z"/>
<path d="M474.01 372.39L476.51 374.89L474.01 377.39L471.51 374.89Z"/>
<path d="M499.27 370.05L501.77 372.55L499.27 375.05L496.77 372.55Z"/>
<path d="M506.42 332.1L508.92 334.6L506.42 337.1L503.92 334.6Z"/>
<path d="M507.45 356.33L509.95 358.83L507.45 361.33L504.95 358.83Z"/>
<path d="M512.55 352.68L515.05 355.18L512.55 357.68L510.05 355.18Z"/>
<path d="M503.07 360.27L505.57 362.77L503.07 365.27L500.57 362.77Z"/>
<path d="M408.32 358.41L410.82 360.91L408.32 363.41L405.82 360.91Z"/>
</g>
<g fill="#0A0AF0">
<rect x="187.44" y="283.6" width="5.1" height="5.1"/>
<rect x="144.92" y="286.46" width="5.1" height="5.1"/>
<rect x="105.27" y="294.63" width="5.1" height="5.1"/>
<rect x="78.91" y="296.68" width="5.1" height="5.1"/>
<rect x="79.32" y="304.85" width="5.1" height="5.1"/>
<rect x="95.26" y="304.85" width="5.1" height="5.1"/>
<rect x="102.41" y="306.28" width="5.1" height="5.1"/>
<rect x="85.65" y="310.57" width="5.1" height="5.1"/>
<rect x="95.26" y="309.35" width="5.1" height="5.1"/>
<rect x="102.82" y="309.96" width="5.1" height="5.1"/>
<rect x="97.3" y="312.82" width="5.1" height="5.1"/>
<rect x="88.11" y="315.48" width="5.1" height="5.1"/>
<rect x="94.85" y="315.48" width="5.1" height="5.1"/>
<rect x="105.48" y="315.89" width="5.1" height="5.1"/>
<rect x="99.76" y="317.93" width="5.1" height="5.1"/>
<rect x="72.17" y="319.77" width="5.1" height="5.1"/>
<rect x="76.46" y="318.95" width="5.1" height="5.1"/>
<rect x="90.15" y="320.18" width="5.1" height="5.1"/>
<rect x="97.3" y="321.61" width="5.1" height="5.1"/>
<rect x="105.48" y="322.22" width="5.1" height="5.1"/>
<rect x="108.95" y="322.22" width="5.1" height="5.1"/>
<rect x="112.22" y="325.7" width="5.1" height="5.1"/>
<rect x="97.3" y="324.27" width="5.1" height="5.1"/>
<rect x="68.69" y="326.52" width="5.1" height="5.1"/>
<rect x="87.09" y="327.13" width="5.1" height="5.1"/>
<rect x="91.79" y="326.52" width="5.1" height="5.1"/>
<rect x="86.06" y="331.42" width="5.1" height="5.1"/>
<rect x="84.63" y="353.7" width="5.1" height="5.1"/>
<rect x="102.62" y="354.11" width="5.1" height="5.1"/>
</g>
<g fill="#1FA3A0">
<rect x="186.5" y="123.8" width="5.1" height="5.1"/>
<rect x="179.93" y="142.78" width="5.1" height="5.1"/>
<rect x="178.03" y="156.79" width="5.1" height="5.1"/>
</g>
<g fill="#8FDDEA">
<rect x="298.33" y="134.46" width="5.1" height="5.1"/>
<rect x="329.86" y="140.88" width="5.1" height="5.1"/>
<rect x="305.04" y="156.36" width="5.1" height="5.1"/>
<rect x="318.76" y="156.94" width="5.1" height="5.1"/>
<rect x="310.59" y="167.16" width="5.1" height="5.1"/>
<rect x="323.14" y="172.71" width="5.1" height="5.1"/>
<rect x="324.31" y="173.87" width="5.1" height="5.1"/>
<rect x="284.02" y="181.76" width="5.1" height="5.1"/>
</g>
<g fill="#8B4513">
<rect x="634.06" y="20.78" width="5.1" height="5.1"/>
<rect x="530.81" y="107.89" width="5.1" height="5.1"/>
<rect x="650.68" y="110.87" width="5.1" height="5.1"/>
<rect x="534.29" y="122.28" width="5.1" height="5.1"/>
<rect x="582.19" y="121.04" width="5.1" height="5.1"/>
<rect x="598.07" y="122.78" width="5.1" height="5.1"/>
<rect x="608.74" y="135.68" width="5.1" height="5.1"/>
<rect x="604.27" y="139.41" width="5.1" height="5.1"/>
<rect x="624.63" y="139.65" width="5.1" height="5.1"/>
<rect x="568.65" y="173.15" width="5.1" height="5.1"/>
<rect x="560.15" y="210.65" width="5.1" height="5.1"/>
</g>
<g fill="#239023">
<rect x="462.98" y="433.7" width="5.1" height="5.1"/>
<rect x="452.82" y="449.29" width="5.1" height="5.1"/>
<rect x="458.95" y="454.02" width="5.1" height="5.1"/>
<rect x="462.63" y="458.22" width="5.1" height="5.1"/>
<rect x="444.59" y="461.9" width="5.1" height="5.1"/>
<rect x="449.14" y="463.13" width="5.1" height="5.1"/>
<rect x="458.25" y="461.03" width="5.1" height="5.1"/>
<rect x="451.25" y="466.63" width="5.1" height="5.1"/>
<rect x="460" y="465.76" width="5.1" height="5.1"/>
<rect x="457.38" y="469.44" width="5.1" height="5.1"/>
<rect x="445.99" y="472.76" width="5.1" height="5.1"/>
<rect x="455.63" y="473.29" width="5.1" height="5.1"/>
<rect x="449.14" y="477.14" width="5.1" height="5.1"/>
<rect x="454.75" y="477.14" width="5.1" height="5.1"/>
<rect x="470.52" y="476.79" width="5.1" height="5.1"/>
<rect x="468.76" y="482.4" width="5.1" height="5.1"/>
<rect x="445.64" y="486.08" width="5.1" height="5.1"/>
</g>
<g fill="#F20000">
<rect x="549.25" y="426.75" width="4.9" height="4.9"/>
<rect x="600.85" y="428.75" width="4.9" height="4.9"/>
<rect x="619.65" y="488.25" width="4.9" height="4.9"/>
</g>
<g fill="#D40000" stroke="#000" stroke-width="1.25" stroke-linejoin="miter">
<path d="M401.31 289.71L405.51 293.91L401.31 298.11L397.11 293.91Z"/>
<path d="M363.8 314.52L368 318.72L363.8 322.92L359.6 318.72Z"/>
<path d="M353.43 328.39L357.63 332.59L353.43 336.79L349.23 332.59Z"/>
<path d="M364.96 329.85L369.16 334.05L364.96 338.25L360.76 334.05Z"/>
<path d="M339.42 340.95L343.62 345.15L339.42 349.35L335.22 345.15Z"/>
<path d="M352.41 338.46L356.61 342.66L352.41 346.86L348.21 342.66Z"/>
<path d="M356.93 340.22L361.13 344.42L356.93 348.62L352.73 344.42Z"/>
<path d="M362.34 337.44L366.54 341.64L362.34 345.84L358.14 341.64Z"/>
<path d="M378.98 340.95L383.18 345.15L378.98 349.35L374.78 345.15Z"/>
<path d="M384.23 347.22L388.43 351.42L384.23 355.62L380.03 351.42Z"/>
<path d="M407.01 345.47L411.21 349.67L407.01 353.87L402.81 349.67Z"/>
<path d="M329.64 350L333.84 354.2L329.64 358.4L325.44 354.2Z"/>
<path d="M349.93 352.62L354.13 356.82L349.93 361.02L345.73 356.82Z"/>
<path d="M356.5 357.44L360.7 361.64L356.5 365.84L352.3 361.64Z"/>
<path d="M378.1 353.35L382.3 357.55L378.1 361.75L373.9 357.55Z"/>
<path d="M385.99 352.77L390.19 356.97L385.99 361.17L381.79 356.97Z"/>
<path d="M334.16 356.71L338.36 360.91L334.16 365.11L329.96 360.91Z"/>
<path d="M334.6 363.28L338.8 367.48L334.6 371.68L330.4 367.48Z"/>
<path d="M345.11 362.26L349.31 366.46L345.11 370.66L340.91 366.46Z"/>
<path d="M349.2 368.1L353.4 372.3L349.2 376.5L345 372.3Z"/>
<path d="M351.53 371.89L355.73 376.09L351.53 380.29L347.33 376.09Z"/>
<path d="M342.19 373.65L346.39 377.85L342.19 382.05L337.99 377.85Z"/>
<path d="M363.21 367.22L367.41 371.42L363.21 375.62L359.01 371.42Z"/>
<path d="M377.52 361.82L381.72 366.02L377.52 370.22L373.32 366.02Z"/>
<path d="M382.04 363.57L386.24 367.77L382.04 371.97L377.84 367.77Z"/>
<path d="M374.01 367.66L378.21 371.86L374.01 376.06L369.81 371.86Z"/>
<path d="M394.45 362.84L398.65 367.04L394.45 371.24L390.25 367.04Z"/>
<path d="M369.93 372.48L374.13 376.68L369.93 380.88L365.73 376.68Z"/>
<path d="M366.72 375.69L370.92 379.89L366.72 384.09L362.52 379.89Z"/>
<path d="M392.7 377.44L396.9 381.64L392.7 385.84L388.5 381.64Z"/>
<path d="M374.74 378.32L378.94 382.52L374.74 386.72L370.54 382.52Z"/>
<path d="M359.12 379.78L363.32 383.98L359.12 388.18L354.92 383.98Z"/>
<path d="M368.91 379.05L373.11 383.25L368.91 387.45L364.71 383.25Z"/>
<path d="M405.4 385.33L409.6 389.53L405.4 393.73L401.2 389.53Z"/>
<path d="M330.51 394.38L334.71 398.58L330.51 402.78L326.31 398.58Z"/>
<path d="M375.18 399.92L379.38 404.12L375.18 408.32L370.98 404.12Z"/>
<path d="M359.71 410.73L363.91 414.93L359.71 419.13L355.51 414.93Z"/>
<path d="M376.5 409.71L380.7 413.91L376.5 418.11L372.3 413.91Z"/>
<path d="M363.21 383.87L367.41 388.07L363.21 392.27L359.01 388.07Z"/>
</g>
<g fill="#48D1CC" stroke="#000" stroke-width="1.25" stroke-linejoin="miter">
<path d="M365.99 339.92L370.19 344.12L365.99 348.32L361.79 344.12Z"/>
<path d="M403.5 351.31L407.7 355.51L403.5 359.71L399.3 355.51Z"/>
<path d="M356.5 425.76L360.7 429.96L356.5 434.16L352.3 429.96Z"/>
</g>
<g fill="#F6B21A" stroke="#000" stroke-width="1.2">
<circle cx="357.66" cy="352.88" r="3.3"/>
<circle cx="362.34" cy="388.36" r="3.3"/>
<circle cx="374.01" cy="399.74" r="3.3"/>
<circle cx="371.09" cy="463.1" r="3.3"/>
</g>
<g fill="#F768AA" stroke="#000" stroke-width="1.15">
<path d="M418.25 346.69L422.95 354.89L413.55 354.89Z"/>
<path d="M445.55 347.72L450.25 355.92L440.85 355.92Z"/>
<path d="M456.93 334.29L461.63 342.49L452.23 342.49Z"/>
<path d="M430.22 368.3L434.92 376.5L425.52 376.5Z"/>
<path d="M479.85 357.21L484.55 365.41L475.15 365.41Z"/>
<path d="M486.42 393.7L491.12 401.9L481.72 401.9Z"/>
<path d="M542.04 326.55L546.74 334.75L537.34 334.75Z"/>
</g>
<g stroke="#0c0c0c" stroke-width="1.35" fill="none">
<path d="M42.3 0V514.6"/>
<path d="M41.7 514.05H682.8"/>
<path d="M39.6 47.5H42.3"/>
<path d="M39.6 182H42.3"/>
<path d="M39.6 316.4H42.3"/>
<path d="M39.6 451.4H42.3"/>
<path d="M74.4 513.9V516.7"/>
<path d="M240.6 513.9V516.7"/>
<path d="M407 513.9V516.7"/>
<path d="M573.6 513.9V516.7"/>
</g>
<g font-size="8.2" fill="#4d4d4d" stroke="#4d4d4d" stroke-width="0.15">
<text x="37.2" y="51" text-anchor="end">0.10</text>
<text x="37.2" y="185.5" text-anchor="end">0.05</text>
<text x="37.2" y="319.9" text-anchor="end">0.00</text>
<text x="37.2" y="454.9" text-anchor="end">−0.05</text>
<text x="74.4" y="525.1" text-anchor="middle">−0.10</text>
<text x="240.6" y="525.1" text-anchor="middle">−0.05</text>
<text x="407" y="525.1" text-anchor="middle">0.00</text>
<text x="573.6" y="525.1" text-anchor="middle">0.05</text>
</g>
<text x="362.2" y="536.8" font-size="10.2" text-anchor="middle" fill="#000" stroke="#000" stroke-width="0.15">PC1</text>
<text transform="translate(13.8 257) rotate(-90)" font-size="10.2" text-anchor="middle" fill="#000" stroke="#000" stroke-width="0.15">PC2</text>
<text x="-0.9" y="15.8" font-size="17.6" font-weight="bold" fill="#000" stroke="#000" stroke-width="0.4" textLength="13.9" lengthAdjust="spacingAndGlyphs">A</text>
<text x="-1.3" y="546.8" font-size="17.8" font-weight="bold" fill="#000" stroke="#000" stroke-width="0.4" textLength="12.7" lengthAdjust="spacingAndGlyphs">B</text>
<g font-size="9.85" stroke-width="0.25">
<text x="134.6" y="139.9" fill="#74CBAB" stroke="#74CBAB">Eastern HG</text>
<text x="285.7" y="149.3" fill="#8FDDEA" stroke="#8FDDEA">Yamnaya</text>
<text x="531.9" y="83.9" fill="#8B4513" stroke="#8B4513">Iran Neolithic and Caucasus HG</text>
<text x="96.4" y="345.2" fill="#1515E0" stroke="#1515E0">Serbia Mesolithic</text>
<text x="306.7" y="257.9" fill="#ABABAB" stroke="#ABABAB">Northern Europe</text>
<text x="349.6" y="301.7" fill="#ABABAB" stroke="#ABABAB">Balkans</text>
<text x="466.9" y="197.8" fill="#ABABAB" stroke="#ABABAB">Caucasus</text>
<text x="531.1" y="344.5" fill="#ABABAB" stroke="#ABABAB">Near East</text>
<text x="397.2" y="408.1" fill="#ABABAB" stroke="#ABABAB">Italy</text>
<text x="374.9" y="496.6" fill="#ABABAB" stroke="#ABABAB">Sardinia</text>
<text x="427.5" y="500.4" fill="#239023" stroke="#239023">Anatolia Neolithic</text>
<text x="553.8" y="460" fill="#BE1E0A" stroke="#BE1E0A">Morocco Early Neolithic</text>
</g>
<text x="50.1" y="10.9" font-size="9.85" font-weight="bold" fill="#000" stroke="#000" stroke-width="0.15">Newly reported individuals</text>
<g font-size="9.8" fill="#000" stroke="#000" stroke-width="0.22">
<text x="65.5" y="26.1">Picenes Novilara</text>
<text x="65.5" y="41.3">Picenes Sirolo-Numana</text>
<text x="65.5" y="56.8">Etruscans Monteriggioni/Colle di Val D&#39;Elsa</text>
<text x="65.5" y="72.0">Pesaro Late Antiquity</text>
</g>
<g fill="#CE2008" stroke="#000" stroke-width="1.3" stroke-linejoin="miter">
<path d="M56.1 17.8L61.6 23.3L56.1 28.8L50.6 23.3Z"/>
</g>
<g fill="#48D1CC" stroke="#000" stroke-width="1.3" stroke-linejoin="miter">
<path d="M56.2 33.2L61.7 38.7L56.2 44.2L50.7 38.7Z"/>
</g>
<g fill="#F5B014" stroke="#000" stroke-width="1.3">
<circle cx="56.3" cy="53.4" r="5.1"/>
</g>
<g fill="#F768AA" stroke="#000" stroke-width="1.3">
<path d="M56.2 63.8L61.2 73L51.2 73Z"/>
</g>
<text x="275.2" y="12.2" font-size="8.8" font-weight="bold" fill="#000" stroke="#000" stroke-width="0.12">Italian individuals from the literature</text>
<g font-size="9.85" fill="#000" stroke="#000" stroke-width="0.22">
<text x="287.8" y="27.8">Etruscans</text>
<text x="287.8" y="42.0">Iron Age/Republic Romans</text>
<text x="287.8" y="56.2">Iron Age Apulians (Daunians)</text>
<text x="287.8" y="70.2">Imperial time</text>
</g>
<g fill="#BF8B14">
<circle cx="280.4" cy="24.8" r="3.6"/>
</g>
<g fill="#4A9A1E">
<path d="M280.4 35.2L284.2 42L276.6 42Z"/>
</g>
<g fill="#2479D2">
<path d="M280.4 49.2L284.2 56L276.6 56Z"/>
</g>
<g fill="#A233F2">
<path d="M280.4 63.8L283.8 67.2L280.4 70.6L277 67.2Z"/>
</g>
<g shape-rendering="geometricPrecision">
<rect x="2.56" y="552.8" width="8.38" height="110" fill="#2468AC"/>
<rect x="11.36" y="552.8" width="8.38" height="110" fill="#2468AC"/>
<rect x="20.16" y="552.8" width="8.38" height="110" fill="#2468AC"/>
<rect x="28.96" y="552.8" width="8.38" height="110" fill="#2468AC"/>
<rect x="37.76" y="552.8" width="8.38" height="110" fill="#2468AC"/>
<rect x="46.56" y="552.8" width="8.38" height="110" fill="#2468AC"/>
<rect x="55.36" y="552.8" width="8.38" height="110" fill="#2468AC"/>
<rect x="64.16" y="552.8" width="8.38" height="110" fill="#2468AC"/>
<rect x="72.96" y="552.8" width="8.38" height="110" fill="#2468AC"/>
<rect x="81.76" y="552.8" width="8.38" height="110" fill="#2468AC"/>
<rect x="90.56" y="552.8" width="8.38" height="110" fill="#2468AC"/>
<rect x="99.36" y="552.8" width="8.38" height="110" fill="#2468AC"/>
<rect x="108.16" y="552.8" width="8.38" height="110" fill="#2468AC"/>
<rect x="116.96" y="552.8" width="8.38" height="110" fill="#2468AC"/>
<rect x="125.76" y="552.8" width="8.38" height="110" fill="#2468AC"/>
<rect x="134.56" y="552.8" width="8.38" height="110" fill="#2468AC"/>
<rect x="143.36" y="552.8" width="8.38" height="110" fill="#2468AC"/>
<rect x="152.16" y="552.8" width="8.38" height="110" fill="#2468AC"/>
<rect x="160.96" y="552.8" width="8.38" height="110" fill="#2468AC"/>
<rect x="169.76" y="552.8" width="8.38" height="110" fill="#2468AC"/>
<rect x="178.56" y="552.8" width="8.38" height="110" fill="#2468AC"/>
<rect x="187.36" y="552.8" width="8.38" height="110" fill="#2468AC"/>
<rect x="196.16" y="552.8" width="8.38" height="110" fill="#2468AC"/>
<rect x="204.96" y="552.8" width="8.38" height="110" fill="#2468AC"/>
<rect x="213.76" y="552.8" width="8.38" height="110" fill="#2468AC"/>
<rect x="222.56" y="552.8" width="8.38" height="110" fill="#2468AC"/>
<rect x="231.36" y="552.8" width="8.38" height="110" fill="#2468AC"/>
<rect x="240.16" y="552.8" width="8.38" height="110" fill="#2468AC"/>
<rect x="248.96" y="552.8" width="8.38" height="110" fill="#2468AC"/>
<rect x="257.76" y="552.8" width="8.38" height="110" fill="#2468AC"/>
<rect x="266.56" y="552.8" width="8.38" height="110" fill="#2468AC"/>
<rect x="275.36" y="552.8" width="8.38" height="0.5" fill="#E78612"/>
<rect x="275.36" y="553.3" width="8.38" height="109.5" fill="#2468AC"/>
<rect x="284.16" y="552.8" width="8.38" height="4.3" fill="#E78612"/>
<rect x="284.16" y="557.1" width="8.38" height="105.7" fill="#2468AC"/>
<rect x="301.76" y="552.8" width="8.38" height="86" fill="#E78612"/>
<rect x="301.76" y="638.8" width="8.38" height="23" fill="#A020F0"/>
<rect x="301.76" y="661.8" width="8.38" height="1" fill="#2468AC"/>
<rect x="310.56" y="552.8" width="8.38" height="91" fill="#E78612"/>
<rect x="310.56" y="643.8" width="8.38" height="18" fill="#A020F0"/>
<rect x="310.56" y="661.8" width="8.38" height="1" fill="#2468AC"/>
<rect x="319.36" y="552.8" width="8.38" height="92" fill="#E78612"/>
<rect x="319.36" y="644.8" width="8.38" height="16.3" fill="#A020F0"/>
<rect x="319.36" y="661.1" width="8.38" height="1.7" fill="#33A745"/>
<rect x="328.16" y="552.8" width="8.38" height="94.2" fill="#E78612"/>
<rect x="328.16" y="647" width="8.38" height="14.8" fill="#A020F0"/>
<rect x="328.16" y="661.8" width="8.38" height="1" fill="#2468AC"/>
<rect x="336.96" y="552.8" width="8.38" height="95.1" fill="#E78612"/>
<rect x="336.96" y="647.9" width="8.38" height="14.9" fill="#A020F0"/>
<rect x="345.76" y="552.8" width="8.38" height="96.3" fill="#E78612"/>
<rect x="345.76" y="649.1" width="8.38" height="10.6" fill="#A020F0"/>
<rect x="345.76" y="659.7" width="8.38" height="3.1" fill="#2468AC"/>
<rect x="354.56" y="552.8" width="8.38" height="98.3" fill="#E78612"/>
<rect x="354.56" y="651.1" width="8.38" height="11.7" fill="#A020F0"/>
<rect x="363.36" y="552.8" width="8.38" height="98.3" fill="#E78612"/>
<rect x="363.36" y="651.1" width="8.38" height="11.7" fill="#A020F0"/>
<rect x="372.16" y="552.8" width="8.38" height="99.5" fill="#E78612"/>
<rect x="372.16" y="652.3" width="8.38" height="10.5" fill="#A020F0"/>
<rect x="380.96" y="552.8" width="8.38" height="101.6" fill="#E78612"/>
<rect x="380.96" y="654.4" width="8.38" height="8.4" fill="#A020F0"/>
<rect x="389.76" y="552.8" width="8.38" height="101.6" fill="#E78612"/>
<rect x="389.76" y="654.4" width="8.38" height="8.4" fill="#A020F0"/>
<rect x="398.56" y="552.8" width="8.38" height="102.6" fill="#E78612"/>
<rect x="398.56" y="655.4" width="8.38" height="7.4" fill="#A020F0"/>
<rect x="407.36" y="552.8" width="8.38" height="103.6" fill="#E78612"/>
<rect x="407.36" y="656.4" width="8.38" height="5.4" fill="#A020F0"/>
<rect x="407.36" y="661.8" width="8.38" height="1" fill="#2468AC"/>
<rect x="416.16" y="552.8" width="8.38" height="103.8" fill="#E78612"/>
<rect x="416.16" y="656.6" width="8.38" height="6.2" fill="#A020F0"/>
<rect x="424.96" y="552.8" width="8.38" height="105" fill="#E78612"/>
<rect x="424.96" y="657.8" width="8.38" height="5" fill="#A020F0"/>
<rect x="433.76" y="552.8" width="8.38" height="105.3" fill="#E78612"/>
<rect x="433.76" y="658.1" width="8.38" height="2.1" fill="#A020F0"/>
<rect x="433.76" y="660.2" width="8.38" height="2.6" fill="#2468AC"/>
<rect x="442.56" y="552.8" width="8.38" height="109.1" fill="#E78612"/>
<rect x="442.56" y="661.9" width="8.38" height="0.3" fill="#A020F0"/>
<rect x="442.56" y="662.2" width="8.38" height="0.6" fill="#2468AC"/>
<rect x="460.16" y="552.8" width="8.38" height="22.9" fill="#A020F0"/>
<rect x="460.16" y="575.7" width="8.38" height="18.9" fill="#2468AC"/>
<rect x="460.16" y="594.6" width="8.38" height="68.2" fill="#33A745"/>
<rect x="468.96" y="552.8" width="8.38" height="23.4" fill="#A020F0"/>
<rect x="468.96" y="576.2" width="8.38" height="18.2" fill="#2468AC"/>
<rect x="468.96" y="594.4" width="8.38" height="68.4" fill="#33A745"/>
<rect x="477.76" y="552.8" width="8.38" height="23.4" fill="#A020F0"/>
<rect x="477.76" y="576.2" width="8.38" height="17" fill="#2468AC"/>
<rect x="477.76" y="593.2" width="8.38" height="69.6" fill="#33A745"/>
<rect x="486.56" y="552.8" width="8.38" height="20.8" fill="#A020F0"/>
<rect x="486.56" y="573.6" width="8.38" height="16.3" fill="#2468AC"/>
<rect x="486.56" y="589.9" width="8.38" height="72.9" fill="#33A745"/>
<rect x="495.36" y="552.8" width="8.38" height="17.6" fill="#A020F0"/>
<rect x="495.36" y="570.4" width="8.38" height="17.5" fill="#2468AC"/>
<rect x="495.36" y="587.9" width="8.38" height="74.9" fill="#33A745"/>
<rect x="504.16" y="552.8" width="8.38" height="16.6" fill="#A020F0"/>
<rect x="504.16" y="569.4" width="8.38" height="15.7" fill="#2468AC"/>
<rect x="504.16" y="585.1" width="8.38" height="77.7" fill="#33A745"/>
<rect x="512.96" y="552.8" width="8.38" height="14.5" fill="#A020F0"/>
<rect x="512.96" y="567.3" width="8.38" height="16.6" fill="#2468AC"/>
<rect x="512.96" y="583.9" width="8.38" height="78.9" fill="#33A745"/>
<rect x="521.76" y="552.8" width="8.38" height="9.7" fill="#A020F0"/>
<rect x="521.76" y="562.5" width="8.38" height="20" fill="#2468AC"/>
<rect x="521.76" y="582.5" width="8.38" height="80.3" fill="#33A745"/>
<rect x="539.36" y="552.8" width="8.38" height="46.5" fill="#2468AC"/>
<rect x="539.36" y="599.3" width="8.38" height="63.5" fill="#33A745"/>
<rect x="548.16" y="552.8" width="8.38" height="42.5" fill="#2468AC"/>
<rect x="548.16" y="595.3" width="8.38" height="67.5" fill="#33A745"/>
<rect x="556.96" y="552.8" width="8.38" height="39" fill="#2468AC"/>
<rect x="556.96" y="591.8" width="8.38" height="71" fill="#33A745"/>
<rect x="574.56" y="552.8" width="8.38" height="106.9" fill="#A020F0"/>
<rect x="574.56" y="659.7" width="8.38" height="3.1" fill="#2468AC"/>
<rect x="583.36" y="552.8" width="8.38" height="104.6" fill="#A020F0"/>
<rect x="583.36" y="657.4" width="8.38" height="5.4" fill="#2468AC"/>
<rect x="592.16" y="552.8" width="8.38" height="104.6" fill="#A020F0"/>
<rect x="592.16" y="657.4" width="8.38" height="5.4" fill="#2468AC"/>
<rect x="600.96" y="552.8" width="8.38" height="103.1" fill="#A020F0"/>
<rect x="600.96" y="655.9" width="8.38" height="6.9" fill="#2468AC"/>
<rect x="609.76" y="552.8" width="8.38" height="101.3" fill="#A020F0"/>
<rect x="609.76" y="654.1" width="8.38" height="8.7" fill="#2468AC"/>
<rect x="618.56" y="552.8" width="8.38" height="100.9" fill="#A020F0"/>
<rect x="618.56" y="653.7" width="8.38" height="9.1" fill="#2468AC"/>
<rect x="627.36" y="552.8" width="8.38" height="99.4" fill="#A020F0"/>
<rect x="627.36" y="652.2" width="8.38" height="10.6" fill="#2468AC"/>
<rect x="636.16" y="552.8" width="8.38" height="95.7" fill="#A020F0"/>
<rect x="636.16" y="648.5" width="8.38" height="14.3" fill="#2468AC"/>
<rect x="644.96" y="552.8" width="8.38" height="95.1" fill="#A020F0"/>
<rect x="644.96" y="647.9" width="8.38" height="14.9" fill="#2468AC"/>
<rect x="662.56" y="552.8" width="8.38" height="86.8" fill="#A020F0"/>
<rect x="662.56" y="639.6" width="8.38" height="4.9" fill="#2468AC"/>
<rect x="662.56" y="644.5" width="8.38" height="18.3" fill="#33A745"/>
<rect x="671.36" y="552.8" width="8.38" height="86.1" fill="#A020F0"/>
<rect x="671.36" y="638.9" width="8.38" height="3" fill="#2468AC"/>
<rect x="671.36" y="641.9" width="8.38" height="20.9" fill="#33A745"/>
</g>
<g font-size="8.8" fill="#1a1a1a">
<text x="105.7" y="678.1">Serbia Mesolithic</text>
<text x="345.7" y="678.1">Anatolia Neolithic</text>
<text x="479.7" y="678.1">Yamnaya</text>
<text x="542.8" y="678.1">EHG</text>
<text x="591.9" y="678.1">Iran Neolithic</text>
<text x="661.9" y="678.1">CHG</text>
</g>
<g>
<rect x="1.97" y="685.69" width="11.31" height="58.45" fill="#E78612"/>
<rect x="1.97" y="744.15" width="11.31" height="2.28" fill="#A020F0"/>
<rect x="1.97" y="746.42" width="11.31" height="8.54" fill="#2468AC"/>
<rect x="1.97" y="754.96" width="11.31" height="73.26" fill="#33A745"/>
<rect x="13.94" y="685.69" width="11.31" height="92.99" fill="#E78612"/>
<rect x="13.94" y="778.69" width="11.31" height="3.42" fill="#A020F0"/>
<rect x="13.94" y="782.1" width="11.31" height="13.66" fill="#2468AC"/>
<rect x="13.94" y="795.77" width="11.31" height="32.45" fill="#33A745"/>
<rect x="25.89" y="685.69" width="11.31" height="102.86" fill="#E78612"/>
<rect x="25.89" y="788.55" width="11.31" height="10.63" fill="#2468AC"/>
<rect x="25.89" y="799.18" width="11.31" height="29.04" fill="#33A745"/>
<rect x="37.86" y="685.69" width="11.31" height="120.13" fill="#E78612"/>
<rect x="37.86" y="805.82" width="11.31" height="22.39" fill="#2468AC"/>
<rect x="61.88" y="685.69" width="11.23" height="35.49" fill="#E78612"/>
<rect x="61.88" y="721.18" width="11.23" height="59.02" fill="#A020F0"/>
<rect x="61.88" y="780.2" width="11.23" height="48.01" fill="#2468AC"/>
<rect x="73.76" y="685.69" width="11.23" height="39.85" fill="#E78612"/>
<rect x="73.76" y="725.55" width="11.23" height="27.52" fill="#A020F0"/>
<rect x="73.76" y="753.07" width="11.23" height="23.72" fill="#2468AC"/>
<rect x="73.76" y="776.79" width="11.23" height="51.43" fill="#33A745"/>
<rect x="85.64" y="685.69" width="11.23" height="44.22" fill="#E78612"/>
<rect x="85.64" y="729.91" width="11.23" height="16.13" fill="#A020F0"/>
<rect x="85.64" y="746.04" width="11.23" height="82.18" fill="#33A745"/>
<rect x="97.52" y="685.69" width="11.23" height="45.17" fill="#E78612"/>
<rect x="97.52" y="730.86" width="11.23" height="97.36" fill="#33A745"/>
<rect x="109.4" y="685.69" width="11.23" height="49.34" fill="#E78612"/>
<rect x="109.4" y="735.04" width="11.23" height="93.18" fill="#33A745"/>
<rect x="121.29" y="685.69" width="11.23" height="51.81" fill="#E78612"/>
<rect x="121.29" y="737.5" width="11.23" height="2.66" fill="#2468AC"/>
<rect x="121.29" y="740.16" width="11.23" height="88.06" fill="#33A745"/>
<rect x="133.17" y="685.69" width="11.23" height="56.18" fill="#E78612"/>
<rect x="133.17" y="741.87" width="11.23" height="86.35" fill="#33A745"/>
<rect x="145.05" y="685.69" width="11.23" height="56.36" fill="#E78612"/>
<rect x="145.05" y="742.06" width="11.23" height="86.16" fill="#33A745"/>
<rect x="156.93" y="685.69" width="11.23" height="58.26" fill="#E78612"/>
<rect x="156.93" y="743.96" width="11.23" height="29.99" fill="#A020F0"/>
<rect x="156.93" y="773.94" width="11.23" height="29.61" fill="#2468AC"/>
<rect x="156.93" y="803.55" width="11.23" height="24.67" fill="#33A745"/>
<rect x="168.81" y="685.69" width="11.23" height="60.35" fill="#E78612"/>
<rect x="168.81" y="746.04" width="11.23" height="82.18" fill="#33A745"/>
<rect x="180.7" y="685.69" width="11.23" height="60.54" fill="#E78612"/>
<rect x="180.7" y="746.23" width="11.23" height="6.83" fill="#2468AC"/>
<rect x="180.7" y="753.07" width="11.23" height="75.15" fill="#33A745"/>
<rect x="192.58" y="685.69" width="11.23" height="62.25" fill="#E78612"/>
<rect x="192.58" y="747.94" width="11.23" height="3.8" fill="#2468AC"/>
<rect x="192.58" y="751.74" width="11.23" height="76.48" fill="#33A745"/>
<rect x="204.46" y="685.69" width="11.23" height="67.37" fill="#E78612"/>
<rect x="204.46" y="753.07" width="11.23" height="21.26" fill="#2468AC"/>
<rect x="204.46" y="774.32" width="11.23" height="53.9" fill="#33A745"/>
<rect x="216.34" y="685.69" width="11.23" height="68.32" fill="#E78612"/>
<rect x="216.34" y="754.01" width="11.23" height="4.36" fill="#A020F0"/>
<rect x="216.34" y="758.38" width="11.23" height="69.84" fill="#33A745"/>
<rect x="228.22" y="685.69" width="11.23" height="68.51" fill="#E78612"/>
<rect x="228.22" y="754.2" width="11.23" height="3.61" fill="#2468AC"/>
<rect x="228.22" y="757.81" width="11.23" height="70.41" fill="#33A745"/>
<rect x="240.11" y="685.69" width="11.23" height="68.51" fill="#E78612"/>
<rect x="240.11" y="754.2" width="11.23" height="74.01" fill="#33A745"/>
<rect x="251.99" y="685.69" width="11.23" height="69.27" fill="#E78612"/>
<rect x="251.99" y="754.96" width="11.23" height="8.54" fill="#2468AC"/>
<rect x="251.99" y="763.5" width="11.23" height="64.72" fill="#33A745"/>
<rect x="263.87" y="685.69" width="11.23" height="71.55" fill="#E78612"/>
<rect x="263.87" y="757.24" width="11.23" height="70.98" fill="#33A745"/>
<rect x="275.75" y="685.69" width="11.23" height="71.17" fill="#E78612"/>
<rect x="275.75" y="756.86" width="11.23" height="71.36" fill="#33A745"/>
<rect x="287.63" y="685.69" width="11.23" height="72.31" fill="#E78612"/>
<rect x="287.63" y="758" width="11.23" height="2.47" fill="#A020F0"/>
<rect x="287.63" y="760.47" width="11.23" height="67.75" fill="#33A745"/>
<rect x="299.52" y="685.69" width="11.23" height="73.45" fill="#E78612"/>
<rect x="299.52" y="759.14" width="11.23" height="13.09" fill="#2468AC"/>
<rect x="299.52" y="772.23" width="11.23" height="55.99" fill="#33A745"/>
<rect x="311.4" y="685.69" width="11.23" height="74.2" fill="#E78612"/>
<rect x="311.4" y="759.9" width="11.23" height="29.04" fill="#2468AC"/>
<rect x="311.4" y="788.93" width="11.23" height="39.28" fill="#33A745"/>
<rect x="323.28" y="685.69" width="11.23" height="74.2" fill="#E78612"/>
<rect x="323.28" y="759.9" width="11.23" height="1.14" fill="#2468AC"/>
<rect x="323.28" y="761.04" width="11.23" height="67.18" fill="#33A745"/>
<rect x="335.16" y="685.69" width="11.23" height="75.34" fill="#E78612"/>
<rect x="335.16" y="761.04" width="11.23" height="8.73" fill="#2468AC"/>
<rect x="335.16" y="769.77" width="11.23" height="58.45" fill="#33A745"/>
<rect x="347.04" y="685.69" width="11.23" height="77.05" fill="#E78612"/>
<rect x="347.04" y="762.74" width="11.23" height="65.47" fill="#33A745"/>
<rect x="358.93" y="685.69" width="11.23" height="77.24" fill="#E78612"/>
<rect x="358.93" y="762.93" width="11.23" height="3.99" fill="#2468AC"/>
<rect x="358.93" y="766.92" width="11.23" height="61.3" fill="#33A745"/>
<rect x="370.81" y="685.69" width="11.23" height="77.43" fill="#E78612"/>
<rect x="370.81" y="763.12" width="11.23" height="7.59" fill="#A020F0"/>
<rect x="370.81" y="770.72" width="11.23" height="10.25" fill="#2468AC"/>
<rect x="370.81" y="780.96" width="11.23" height="47.26" fill="#33A745"/>
<rect x="382.69" y="685.69" width="11.23" height="77.81" fill="#E78612"/>
<rect x="382.69" y="763.5" width="11.23" height="0.57" fill="#A020F0"/>
<rect x="382.69" y="764.07" width="11.23" height="26.76" fill="#2468AC"/>
<rect x="382.69" y="790.83" width="11.23" height="37.39" fill="#33A745"/>
<rect x="394.57" y="685.69" width="11.23" height="78.19" fill="#E78612"/>
<rect x="394.57" y="763.88" width="11.23" height="6.83" fill="#2468AC"/>
<rect x="394.57" y="770.72" width="11.23" height="57.5" fill="#33A745"/>
<rect x="406.45" y="685.69" width="11.23" height="78.76" fill="#E78612"/>
<rect x="406.45" y="764.45" width="11.23" height="25.81" fill="#A020F0"/>
<rect x="406.45" y="790.26" width="11.23" height="9.3" fill="#2468AC"/>
<rect x="406.45" y="799.56" width="11.23" height="28.66" fill="#33A745"/>
<rect x="418.34" y="685.69" width="11.23" height="79.33" fill="#E78612"/>
<rect x="418.34" y="765.02" width="11.23" height="63.2" fill="#33A745"/>
<rect x="430.22" y="685.69" width="11.23" height="80.09" fill="#E78612"/>
<rect x="430.22" y="765.78" width="11.23" height="9.11" fill="#2468AC"/>
<rect x="430.22" y="774.89" width="11.23" height="53.33" fill="#33A745"/>
<rect x="442.1" y="685.69" width="11.23" height="80.28" fill="#E78612"/>
<rect x="442.1" y="765.97" width="11.23" height="3.8" fill="#A020F0"/>
<rect x="442.1" y="769.77" width="11.23" height="7.97" fill="#2468AC"/>
<rect x="442.1" y="777.74" width="11.23" height="50.48" fill="#33A745"/>
<rect x="453.98" y="685.69" width="11.23" height="80.66" fill="#E78612"/>
<rect x="453.98" y="766.35" width="11.23" height="61.87" fill="#33A745"/>
<rect x="465.86" y="685.69" width="11.23" height="82.18" fill="#E78612"/>
<rect x="465.86" y="767.87" width="11.23" height="60.35" fill="#33A745"/>
<rect x="477.75" y="685.69" width="11.23" height="85.02" fill="#E78612"/>
<rect x="477.75" y="770.72" width="11.23" height="57.5" fill="#33A745"/>
<rect x="489.63" y="685.69" width="11.23" height="85.4" fill="#E78612"/>
<rect x="489.63" y="771.09" width="11.23" height="9.87" fill="#2468AC"/>
<rect x="489.63" y="780.96" width="11.23" height="47.26" fill="#33A745"/>
<rect x="501.51" y="685.69" width="11.23" height="87.3" fill="#E78612"/>
<rect x="501.51" y="772.99" width="11.23" height="2.09" fill="#2468AC"/>
<rect x="501.51" y="775.08" width="11.23" height="53.14" fill="#33A745"/>
<rect x="513.39" y="685.69" width="11.23" height="88.44" fill="#E78612"/>
<rect x="513.39" y="774.13" width="11.23" height="4.93" fill="#2468AC"/>
<rect x="513.39" y="779.07" width="11.23" height="49.15" fill="#33A745"/>
<rect x="525.27" y="685.69" width="11.23" height="89.58" fill="#E78612"/>
<rect x="525.27" y="775.27" width="11.23" height="3.42" fill="#2468AC"/>
<rect x="525.27" y="778.69" width="11.23" height="49.53" fill="#33A745"/>
<rect x="549.23" y="685.69" width="11.2" height="52.76" fill="#E78612"/>
<rect x="549.23" y="738.45" width="11.2" height="9.49" fill="#A020F0"/>
<rect x="549.23" y="747.94" width="11.2" height="80.28" fill="#33A745"/>
<rect x="561.08" y="685.69" width="11.2" height="65.66" fill="#E78612"/>
<rect x="561.08" y="751.36" width="11.2" height="76.86" fill="#33A745"/>
<rect x="572.93" y="685.69" width="11.2" height="89.58" fill="#E78612"/>
<rect x="572.93" y="775.27" width="11.2" height="32.07" fill="#2468AC"/>
<rect x="572.93" y="807.34" width="11.2" height="20.88" fill="#33A745"/>
<rect x="597.2" y="685.59" width="10.17" height="9.79" fill="#E78612"/>
<rect x="597.2" y="695.38" width="10.17" height="122.2" fill="#A020F0"/>
<rect x="597.2" y="817.59" width="10.17" height="10.49" fill="#2468AC"/>
<rect x="608.02" y="685.59" width="11.25" height="46.5" fill="#E78612"/>
<rect x="608.02" y="732.1" width="11.25" height="65.91" fill="#A020F0"/>
<rect x="608.02" y="798.01" width="11.25" height="30.07" fill="#2468AC"/>
<rect x="619.92" y="685.59" width="11.25" height="49.13" fill="#E78612"/>
<rect x="619.92" y="734.72" width="11.25" height="76.75" fill="#A020F0"/>
<rect x="619.92" y="811.47" width="11.25" height="16.61" fill="#2468AC"/>
<rect x="631.82" y="685.59" width="11.25" height="49.48" fill="#E78612"/>
<rect x="631.82" y="735.07" width="11.25" height="56.12" fill="#A020F0"/>
<rect x="631.82" y="791.19" width="11.25" height="30.94" fill="#2468AC"/>
<rect x="631.82" y="822.13" width="11.25" height="5.94" fill="#33A745"/>
<rect x="643.72" y="685.59" width="11.25" height="58.22" fill="#E78612"/>
<rect x="643.72" y="743.81" width="11.25" height="49.83" fill="#A020F0"/>
<rect x="643.72" y="793.64" width="11.25" height="34.44" fill="#33A745"/>
<rect x="655.62" y="685.59" width="11.25" height="69.93" fill="#E78612"/>
<rect x="655.62" y="755.52" width="11.25" height="62.24" fill="#A020F0"/>
<rect x="655.62" y="817.76" width="11.25" height="10.31" fill="#33A745"/>
<rect x="667.52" y="685.59" width="11.25" height="76.57" fill="#E78612"/>
<rect x="667.52" y="762.17" width="11.25" height="31.47" fill="#A020F0"/>
<rect x="667.52" y="793.64" width="11.25" height="4.2" fill="#2468AC"/>
<rect x="667.52" y="797.83" width="11.25" height="30.24" fill="#33A745"/>
</g>
<g stroke="#111" stroke-width="1.05" fill="none">
<path d="M1.15 835.4H51.09"/>
<path d="M61.05 835.4H538.43"/>
<path d="M548.4 835.4H586.05"/>
<path d="M596.7 835.4H680.7"/>
<path d="M7.63 835.4V836.9"/>
<path d="M19.59 835.4V836.9"/>
<path d="M31.55 835.4V836.9"/>
<path d="M43.51 835.4V836.9"/>
<path d="M67.49 835.4V836.9"/>
<path d="M79.37 835.4V836.9"/>
<path d="M91.26 835.4V836.9"/>
<path d="M103.14 835.4V836.9"/>
<path d="M115.02 835.4V836.9"/>
<path d="M126.9 835.4V836.9"/>
<path d="M138.78 835.4V836.9"/>
<path d="M150.67 835.4V836.9"/>
<path d="M162.55 835.4V836.9"/>
<path d="M174.43 835.4V836.9"/>
<path d="M186.31 835.4V836.9"/>
<path d="M198.19 835.4V836.9"/>
<path d="M210.08 835.4V836.9"/>
<path d="M221.96 835.4V836.9"/>
<path d="M233.84 835.4V836.9"/>
<path d="M245.72 835.4V836.9"/>
<path d="M257.6 835.4V836.9"/>
<path d="M269.49 835.4V836.9"/>
<path d="M281.37 835.4V836.9"/>
<path d="M293.25 835.4V836.9"/>
<path d="M305.13 835.4V836.9"/>
<path d="M317.01 835.4V836.9"/>
<path d="M328.9 835.4V836.9"/>
<path d="M340.78 835.4V836.9"/>
<path d="M352.66 835.4V836.9"/>
<path d="M364.54 835.4V836.9"/>
<path d="M376.42 835.4V836.9"/>
<path d="M388.31 835.4V836.9"/>
<path d="M400.19 835.4V836.9"/>
<path d="M412.07 835.4V836.9"/>
<path d="M423.95 835.4V836.9"/>
<path d="M435.83 835.4V836.9"/>
<path d="M447.72 835.4V836.9"/>
<path d="M459.6 835.4V836.9"/>
<path d="M471.48 835.4V836.9"/>
<path d="M483.36 835.4V836.9"/>
<path d="M495.24 835.4V836.9"/>
<path d="M507.13 835.4V836.9"/>
<path d="M519.01 835.4V836.9"/>
<path d="M530.89 835.4V836.9"/>
<path d="M554.82 835.4V836.9"/>
<path d="M566.67 835.4V836.9"/>
<path d="M578.52 835.4V836.9"/>
<path d="M601.75 835.4V836.9"/>
<path d="M613.65 835.4V836.9"/>
<path d="M625.55 835.4V836.9"/>
<path d="M637.45 835.4V836.9"/>
<path d="M649.35 835.4V836.9"/>
<path d="M661.25 835.4V836.9"/>
<path d="M673.15 835.4V836.9"/>
</g>
<g font-size="8.3" fill="#1a1a1a" stroke="#1a1a1a" stroke-width="0.15">
<text transform="translate(10.23 837.5) rotate(-90)" text-anchor="end">EV18</text>
<text transform="translate(22.19 837.5) rotate(-90)" text-anchor="end">EV7A</text>
<text transform="translate(34.15 837.5) rotate(-90)" text-anchor="end">EV16D1</text>
<text transform="translate(46.11 837.5) rotate(-90)" text-anchor="end">EV15A</text>
<text transform="translate(70.09 837.5) rotate(-90)" text-anchor="end">PN43</text>
<text transform="translate(81.97 837.5) rotate(-90)" text-anchor="end">PN42</text>
<text transform="translate(93.86 837.5) rotate(-90)" text-anchor="end">PN87</text>
<text transform="translate(105.74 837.5) rotate(-90)" text-anchor="end">PN176</text>
<text transform="translate(117.62 837.5) rotate(-90)" text-anchor="end">PN56</text>
<text transform="translate(129.5 837.5) rotate(-90)" text-anchor="end">PN168</text>
<text transform="translate(141.38 837.5) rotate(-90)" text-anchor="end">PN125</text>
<text transform="translate(153.27 837.5) rotate(-90)" text-anchor="end">PN103</text>
<text transform="translate(165.15 837.5) rotate(-90)" text-anchor="end">PN24</text>
<text transform="translate(177.03 837.5) rotate(-90)" text-anchor="end">PN101</text>
<text transform="translate(188.91 837.5) rotate(-90)" text-anchor="end">PN78</text>
<text transform="translate(200.79 837.5) rotate(-90)" text-anchor="end">PN79</text>
<text transform="translate(212.68 837.5) rotate(-90)" text-anchor="end">PN135</text>
<text transform="translate(224.56 837.5) rotate(-90)" text-anchor="end">PN35</text>
<text transform="translate(236.44 837.5) rotate(-90)" text-anchor="end">PN85</text>
<text transform="translate(248.32 837.5) rotate(-90)" text-anchor="end">PN51</text>
<text transform="translate(260.2 837.5) rotate(-90)" text-anchor="end">PN174</text>
<text transform="translate(272.09 837.5) rotate(-90)" text-anchor="end">PN179</text>
<text transform="translate(283.97 837.5) rotate(-90)" text-anchor="end">PN45</text>
<text transform="translate(295.85 837.5) rotate(-90)" text-anchor="end">PN29</text>
<text transform="translate(307.73 837.5) rotate(-90)" text-anchor="end">PN172</text>
<text transform="translate(319.61 837.5) rotate(-90)" text-anchor="end">PN3</text>
<text transform="translate(331.5 837.5) rotate(-90)" text-anchor="end">PN138</text>
<text transform="translate(343.38 837.5) rotate(-90)" text-anchor="end">PN157</text>
<text transform="translate(355.26 837.5) rotate(-90)" text-anchor="end">PN44</text>
<text transform="translate(367.14 837.5) rotate(-90)" text-anchor="end">PN41</text>
<text transform="translate(379.02 837.5) rotate(-90)" text-anchor="end">PN158</text>
<text transform="translate(390.91 837.5) rotate(-90)" text-anchor="end">PN180</text>
<text transform="translate(402.79 837.5) rotate(-90)" text-anchor="end">PN90</text>
<text transform="translate(414.67 837.5) rotate(-90)" text-anchor="end">PN6</text>
<text transform="translate(426.55 837.5) rotate(-90)" text-anchor="end">PN177</text>
<text transform="translate(438.43 837.5) rotate(-90)" text-anchor="end">PN162</text>
<text transform="translate(450.32 837.5) rotate(-90)" text-anchor="end">PN107</text>
<text transform="translate(462.2 837.5) rotate(-90)" text-anchor="end">PN50</text>
<text transform="translate(474.08 837.5) rotate(-90)" text-anchor="end">PN91</text>
<text transform="translate(485.96 837.5) rotate(-90)" text-anchor="end">PN105</text>
<text transform="translate(497.84 837.5) rotate(-90)" text-anchor="end">PN20</text>
<text transform="translate(509.73 837.5) rotate(-90)" text-anchor="end">PN171A</text>
<text transform="translate(521.61 837.5) rotate(-90)" text-anchor="end">PN146</text>
<text transform="translate(533.49 837.5) rotate(-90)" text-anchor="end">PN141</text>
<text transform="translate(557.42 837.5) rotate(-90)" text-anchor="end">PNU17</text>
<text transform="translate(569.27 837.5) rotate(-90)" text-anchor="end">PSD2</text>
<text transform="translate(581.12 837.5) rotate(-90)" text-anchor="end">PNU76</text>
<text transform="translate(604.35 837.5) rotate(-90)" text-anchor="end">PF32</text>
<text transform="translate(616.25 837.5) rotate(-90)" text-anchor="end">PF19</text>
<text transform="translate(628.15 837.5) rotate(-90)" text-anchor="end">PF1</text>
<text transform="translate(640.05 837.5) rotate(-90)" text-anchor="end">PF11</text>
<text transform="translate(651.95 837.5) rotate(-90)" text-anchor="end">PF36</text>
<text transform="translate(663.85 837.5) rotate(-90)" text-anchor="end">PF28</text>
<text transform="translate(675.75 837.5) rotate(-90)" text-anchor="end">PF24</text>
</g>
<g font-size="5.8" fill="#1a1a1a" stroke="#1a1a1a" stroke-width="0.12">
<text transform="translate(8.5 908.6) rotate(-55)" y="0">Etruscans</text>
<text transform="translate(8.5 908.6) rotate(-55)" y="6.6">Monteriggioni/</text>
<text transform="translate(8.5 908.6) rotate(-55)" y="13.2">Colle di Val D&#39;Elsa</text>
<text transform="translate(266 902) rotate(-55)" y="0">Picenes</text>
<text transform="translate(266 902) rotate(-55)" y="6.6">Novilara</text>
<text transform="translate(556.5 906.8) rotate(-55)" y="0">Picenes</text>
<text transform="translate(556.5 906.8) rotate(-55)" y="6.6">Sirolo-Numana</text>
<text transform="translate(624 905.3) rotate(-55)" y="0">Pesaro</text>
<text transform="translate(624 905.3) rotate(-55)" y="6.6">Late Antiquity</text>
</g>
</svg>
</body></html>
